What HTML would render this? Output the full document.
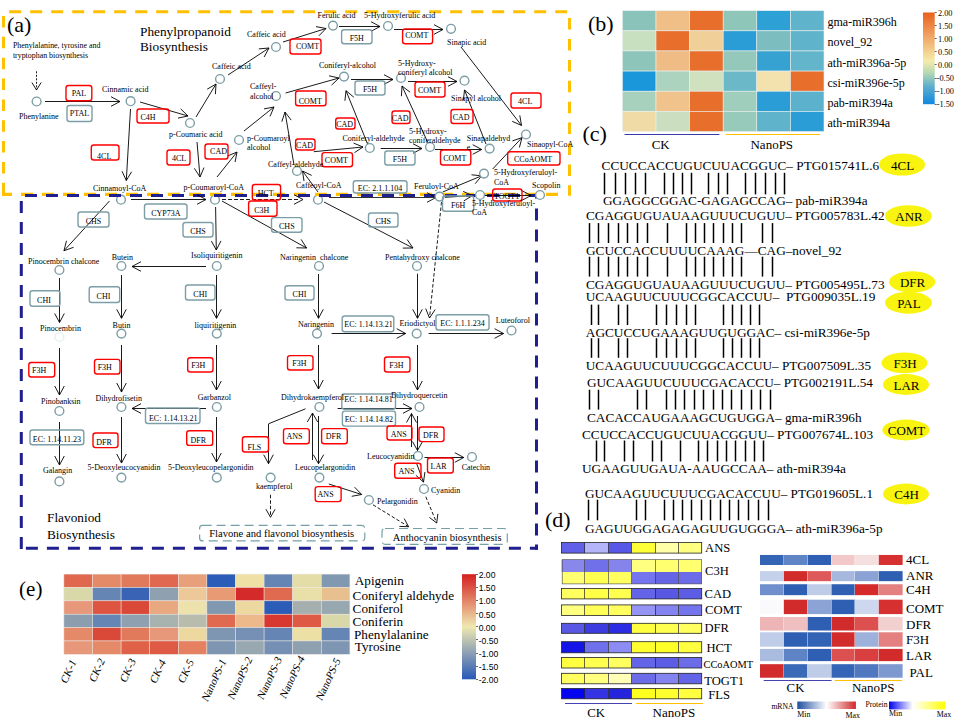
<!DOCTYPE html>
<html><head><meta charset="utf-8"><title>figure</title>
<style>
html,body{margin:0;padding:0;background:#fff;}
svg{display:block;font-family:"Liberation Serif",serif;}
</style></head><body>
<svg width="959" height="719" viewBox="0 0 959 719">
<rect width="959" height="719" fill="#fff"/>
<circle cx="121.0" cy="199.7" r="4.4" fill="#fff" stroke="#7d9ea6" stroke-width="1.4"/>
<circle cx="215.0" cy="199.7" r="4.4" fill="#fff" stroke="#7d9ea6" stroke-width="1.4"/>
<circle cx="318.0" cy="199.7" r="4.4" fill="#fff" stroke="#7d9ea6" stroke-width="1.4"/>
<line x1="9.2" y1="11.7" x2="571" y2="11.7" stroke="#ffc000" stroke-width="3" stroke-dasharray="12 9"/>
<line x1="569.5" y1="18.1" x2="569.5" y2="195.7" stroke="#ffc000" stroke-width="3" stroke-dasharray="11.5 9.4"/>
<line x1="558" y1="194.4" x2="2" y2="194.4" stroke="#ffc000" stroke-width="3.4" stroke-dasharray="12 9"/>
<line x1="3.5" y1="16" x2="3.5" y2="195.7" stroke="#ffc000" stroke-width="3" stroke-dasharray="11.5 9.35"/>
<line x1="25" y1="195.5" x2="538" y2="195.5" stroke="#1f1f8f" stroke-width="3" stroke-dasharray="12 9"/>
<line x1="21.3" y1="201.1" x2="21.3" y2="549.8" stroke="#1f1f8f" stroke-width="3" stroke-dasharray="12 9"/>
<line x1="536.5" y1="208.5" x2="536.5" y2="549.8" stroke="#1f1f8f" stroke-width="3" stroke-dasharray="12 9"/>
<line x1="536.5" y1="194" x2="536.5" y2="198.5" stroke="#1f1f8f" stroke-width="3" stroke-dasharray="12 9"/>
<line x1="25.9" y1="548.3" x2="538" y2="548.3" stroke="#1f1f8f" stroke-width="3" stroke-dasharray="12 9"/>
<text x="7.0" y="32.0" font-size="22">(a)</text>
<text x="140.0" y="36.0" font-size="13.3">Phenylpropanoid</text>
<text x="140.0" y="51.0" font-size="13.3">Biosynthesis</text>
<text x="12.9" y="47.6" font-size="7.9">Phenylalanine, tyrosine and</text>
<text x="12.9" y="57.7" font-size="7.9">tryptophan biosynthesis</text>
<text x="47.0" y="522.0" font-size="13.3">Flavoniod</text>
<text x="47.0" y="538.5" font-size="13.3">Biosynthesis</text>
<line x1="36.5" y1="71.3" x2="36.5" y2="90.0" stroke="#000" stroke-width="0.9" stroke-dasharray="2 1.5"/>
<polyline points="31.9,82.5 36.5,90.0 41.1,82.5" fill="none" stroke="#000" stroke-width="0.9"/>
<line x1="45.0" y1="101.5" x2="120.0" y2="101.5" stroke="#000" stroke-width="0.9"/>
<polyline points="111.0,106.3 120.0,101.5 111.0,96.7" fill="none" stroke="#000" stroke-width="0.9"/>
<line x1="140.0" y1="102.0" x2="188.0" y2="116.0" stroke="#000" stroke-width="0.9"/>
<polyline points="178.0,118.1 188.0,116.0 180.7,108.9" fill="none" stroke="#000" stroke-width="0.9"/>
<line x1="196.0" y1="117.0" x2="216.0" y2="84.0" stroke="#000" stroke-width="0.9"/>
<polyline points="215.4,94.2 216.0,84.0 207.2,89.2" fill="none" stroke="#000" stroke-width="0.9"/>
<line x1="228.0" y1="75.0" x2="269.0" y2="48.0" stroke="#000" stroke-width="0.9"/>
<polyline points="264.1,57.0 269.0,48.0 258.8,48.9" fill="none" stroke="#000" stroke-width="0.9"/>
<line x1="130.5" y1="109.0" x2="126.3" y2="180.5" stroke="#000" stroke-width="0.9"/>
<polyline points="122.0,171.2 126.3,180.5 131.6,171.8" fill="none" stroke="#000" stroke-width="0.9"/>
<line x1="197.0" y1="142.0" x2="200.0" y2="177.0" stroke="#000" stroke-width="0.9"/>
<polyline points="194.4,168.4 200.0,177.0 204.0,167.6" fill="none" stroke="#000" stroke-width="0.9"/>
<line x1="217.0" y1="177.0" x2="237.0" y2="152.0" stroke="#000" stroke-width="0.9"/>
<polyline points="235.1,162.0 237.0,152.0 227.6,156.0" fill="none" stroke="#000" stroke-width="0.9"/>
<line x1="244.0" y1="131.0" x2="274.0" y2="107.0" stroke="#000" stroke-width="0.9"/>
<polyline points="270.0,116.4 274.0,107.0 264.0,108.9" fill="none" stroke="#000" stroke-width="0.9"/>
<line x1="294.0" y1="165.0" x2="285.0" y2="112.0" stroke="#000" stroke-width="0.9"/>
<polyline points="291.2,120.1 285.0,112.0 281.8,121.7" fill="none" stroke="#000" stroke-width="0.9"/>
<line x1="283.0" y1="42.0" x2="326.0" y2="28.5" stroke="#000" stroke-width="0.9"/>
<polyline points="318.9,35.8 326.0,28.5 316.0,26.6" fill="none" stroke="#000" stroke-width="0.9"/>
<line x1="339.0" y1="26.5" x2="380.0" y2="26.5" stroke="#000" stroke-width="0.9"/>
<polyline points="371.0,31.3 380.0,26.5 371.0,21.7" fill="none" stroke="#000" stroke-width="0.9"/>
<line x1="394.0" y1="29.5" x2="443.0" y2="29.5" stroke="#000" stroke-width="0.9"/>
<polyline points="434.0,34.3 443.0,29.5 434.0,24.7" fill="none" stroke="#000" stroke-width="0.9"/>
<line x1="461.0" y1="47.0" x2="521.5" y2="125.5" stroke="#000" stroke-width="0.9"/>
<polyline points="512.2,121.3 521.5,125.5 519.8,115.4" fill="none" stroke="#000" stroke-width="0.9"/>
<line x1="285.6" y1="93.0" x2="339.0" y2="78.0" stroke="#000" stroke-width="0.9"/>
<polyline points="331.6,85.1 339.0,78.0 329.0,75.8" fill="none" stroke="#000" stroke-width="0.9"/>
<line x1="351.0" y1="79.5" x2="393.0" y2="79.5" stroke="#000" stroke-width="0.9"/>
<polyline points="384.0,84.3 393.0,79.5 384.0,74.7" fill="none" stroke="#000" stroke-width="0.9"/>
<line x1="408.0" y1="81.5" x2="457.0" y2="81.5" stroke="#000" stroke-width="0.9"/>
<polyline points="448.0,86.3 457.0,81.5 448.0,76.7" fill="none" stroke="#000" stroke-width="0.9"/>
<line x1="367.6" y1="144.0" x2="346.0" y2="90.7" stroke="#000" stroke-width="0.9"/>
<polyline points="353.8,97.2 346.0,90.7 344.9,100.8" fill="none" stroke="#000" stroke-width="0.9"/>
<line x1="427.6" y1="142.0" x2="402.0" y2="86.0" stroke="#000" stroke-width="0.9"/>
<polyline points="410.1,92.2 402.0,86.0 401.4,96.2" fill="none" stroke="#000" stroke-width="0.9"/>
<line x1="486.0" y1="144.0" x2="464.5" y2="90.0" stroke="#000" stroke-width="0.9"/>
<polyline points="472.3,96.6 464.5,90.0 463.4,100.1" fill="none" stroke="#000" stroke-width="0.9"/>
<line x1="313.8" y1="151.7" x2="363.0" y2="147.0" stroke="#000" stroke-width="0.9"/>
<polyline points="354.5,152.6 363.0,147.0 353.6,143.1" fill="none" stroke="#000" stroke-width="0.9"/>
<line x1="380.7" y1="148.5" x2="422.0" y2="148.5" stroke="#000" stroke-width="0.9"/>
<polyline points="413.0,153.3 422.0,148.5 413.0,143.7" fill="none" stroke="#000" stroke-width="0.9"/>
<line x1="435.0" y1="149.5" x2="481.7" y2="149.5" stroke="#000" stroke-width="0.9"/>
<polyline points="472.7,154.3 481.7,149.5 472.7,144.7" fill="none" stroke="#000" stroke-width="0.9"/>
<line x1="492.7" y1="169.0" x2="522.0" y2="137.6" stroke="#000" stroke-width="0.9"/>
<polyline points="519.4,147.5 522.0,137.6 512.4,140.9" fill="none" stroke="#000" stroke-width="0.9"/>
<line x1="442.7" y1="192.0" x2="481.7" y2="175.8" stroke="#000" stroke-width="0.9"/>
<polyline points="475.2,183.7 481.7,175.8 471.5,174.8" fill="none" stroke="#000" stroke-width="0.9"/>
<line x1="318.0" y1="192.0" x2="302.5" y2="171.0" stroke="#000" stroke-width="0.9"/>
<polyline points="311.7,175.4 302.5,171.0 304.0,181.1" fill="none" stroke="#000" stroke-width="0.9"/>
<line x1="131.0" y1="199.5" x2="206.0" y2="199.5" stroke="#000" stroke-width="0.9"/>
<polyline points="197.0,204.3 206.0,199.5 197.0,194.7" fill="none" stroke="#000" stroke-width="0.9"/>
<line x1="222.0" y1="199.5" x2="300.0" y2="199.5" stroke="#000" stroke-width="0.9" stroke-dasharray="4 2"/>
<polyline points="294.0,204.3 303.0,199.5 294.0,194.7" fill="none" stroke="#000" stroke-width="0.9"/>
<line x1="329.0" y1="197.5" x2="435.0" y2="197.5" stroke="#000" stroke-width="0.8"/>
<polyline points="427.0,202.3 436.0,197.5 427.0,192.7" fill="none" stroke="#000" stroke-width="0.9"/>
<line x1="445.0" y1="197.3" x2="472.5" y2="195.6" stroke="#000" stroke-width="0.9"/>
<polyline points="463.8,200.9 472.5,195.6 463.2,191.4" fill="none" stroke="#000" stroke-width="0.9"/>
<line x1="485.0" y1="195.5" x2="531.0" y2="195.5" stroke="#000" stroke-width="0.9"/>
<polyline points="522.0,200.3 531.0,195.5 522.0,190.7" fill="none" stroke="#000" stroke-width="0.9"/>
<line x1="109.5" y1="201.0" x2="64.0" y2="250.7" stroke="#000" stroke-width="0.9"/>
<polyline points="66.5,240.8 64.0,250.7 73.6,247.3" fill="none" stroke="#000" stroke-width="0.9"/>
<line x1="215.6" y1="207.0" x2="216.3" y2="250.0" stroke="#000" stroke-width="0.9"/>
<polyline points="211.4,241.1 216.3,250.0 221.0,240.9" fill="none" stroke="#000" stroke-width="0.9"/>
<line x1="222.0" y1="201.0" x2="306.6" y2="248.0" stroke="#000" stroke-width="0.9"/>
<polyline points="296.4,247.8 306.6,248.0 301.1,239.4" fill="none" stroke="#000" stroke-width="0.9"/>
<line x1="324.0" y1="202.0" x2="413.0" y2="248.0" stroke="#000" stroke-width="0.9"/>
<polyline points="402.8,248.1 413.0,248.0 407.2,239.6" fill="none" stroke="#000" stroke-width="0.9"/>
<line x1="441.5" y1="202.0" x2="429.5" y2="318.0" stroke="#000" stroke-width="0.9" stroke-dasharray="3.5 2"/>
<polyline points="425.7,308.6 429.5,318.0 435.2,309.5" fill="none" stroke="#000" stroke-width="0.9"/>
<line x1="206.0" y1="266.5" x2="132.0" y2="266.5" stroke="#000" stroke-width="0.9"/>
<polyline points="141.0,261.7 132.0,266.5 141.0,271.3" fill="none" stroke="#000" stroke-width="0.9"/>
<line x1="59.5" y1="278.0" x2="59.5" y2="322.5" stroke="#000" stroke-width="0.9"/>
<polyline points="54.7,313.5 59.5,322.5 64.3,313.5" fill="none" stroke="#000" stroke-width="0.9"/>
<line x1="121.5" y1="275.0" x2="121.5" y2="318.3" stroke="#000" stroke-width="0.9"/>
<polyline points="116.7,309.3 121.5,318.3 126.3,309.3" fill="none" stroke="#000" stroke-width="0.9"/>
<line x1="216.5" y1="275.0" x2="216.5" y2="318.3" stroke="#000" stroke-width="0.9"/>
<polyline points="211.7,309.3 216.5,318.3 221.3,309.3" fill="none" stroke="#000" stroke-width="0.9"/>
<line x1="318.5" y1="274.0" x2="318.5" y2="318.3" stroke="#000" stroke-width="0.9"/>
<polyline points="313.7,309.3 318.5,318.3 323.3,309.3" fill="none" stroke="#000" stroke-width="0.9"/>
<line x1="417.5" y1="273.7" x2="417.5" y2="318.3" stroke="#000" stroke-width="0.9"/>
<polyline points="412.7,309.3 417.5,318.3 422.3,309.3" fill="none" stroke="#000" stroke-width="0.9"/>
<line x1="331.6" y1="333.5" x2="405.7" y2="333.5" stroke="#000" stroke-width="0.9"/>
<polyline points="396.7,338.3 405.7,333.5 396.7,328.7" fill="none" stroke="#000" stroke-width="0.9"/>
<line x1="428.6" y1="333.5" x2="503.6" y2="333.5" stroke="#000" stroke-width="0.9"/>
<polyline points="494.6,338.3 503.6,333.5 494.6,328.7" fill="none" stroke="#000" stroke-width="0.9"/>
<line x1="59.5" y1="348.0" x2="59.5" y2="395.0" stroke="#000" stroke-width="0.9"/>
<polyline points="54.7,386.0 59.5,395.0 64.3,386.0" fill="none" stroke="#000" stroke-width="0.9"/>
<line x1="121.5" y1="345.0" x2="121.5" y2="392.0" stroke="#000" stroke-width="0.9"/>
<polyline points="116.7,383.0 121.5,392.0 126.3,383.0" fill="none" stroke="#000" stroke-width="0.9"/>
<line x1="216.5" y1="345.0" x2="216.5" y2="390.0" stroke="#000" stroke-width="0.9"/>
<polyline points="211.7,381.0 216.5,390.0 221.3,381.0" fill="none" stroke="#000" stroke-width="0.9"/>
<line x1="318.5" y1="345.0" x2="318.5" y2="389.0" stroke="#000" stroke-width="0.9"/>
<polyline points="313.7,380.0 318.5,389.0 323.3,380.0" fill="none" stroke="#000" stroke-width="0.9"/>
<line x1="417.5" y1="345.0" x2="417.5" y2="390.0" stroke="#000" stroke-width="0.9"/>
<polyline points="412.7,381.0 417.5,390.0 422.3,381.0" fill="none" stroke="#000" stroke-width="0.9"/>
<line x1="206.0" y1="408.5" x2="132.0" y2="408.5" stroke="#000" stroke-width="0.9"/>
<polyline points="141.0,403.7 132.0,408.5 141.0,413.3" fill="none" stroke="#000" stroke-width="0.9"/>
<line x1="59.5" y1="422.0" x2="59.5" y2="465.0" stroke="#000" stroke-width="0.9"/>
<polyline points="54.7,456.0 59.5,465.0 64.3,456.0" fill="none" stroke="#000" stroke-width="0.9"/>
<line x1="121.5" y1="417.0" x2="121.5" y2="463.0" stroke="#000" stroke-width="0.9"/>
<polyline points="116.7,454.0 121.5,463.0 126.3,454.0" fill="none" stroke="#000" stroke-width="0.9"/>
<line x1="216.5" y1="417.0" x2="216.5" y2="462.0" stroke="#000" stroke-width="0.9"/>
<polyline points="211.7,453.0 216.5,462.0 221.3,453.0" fill="none" stroke="#000" stroke-width="0.9"/>
<line x1="337.6" y1="408.5" x2="412.0" y2="408.5" stroke="#000" stroke-width="0.9"/>
<polyline points="403.0,413.3 412.0,408.5 403.0,403.7" fill="none" stroke="#000" stroke-width="0.9"/>
<line x1="305.5" y1="408.8" x2="268.5" y2="423.8" stroke="#000" stroke-width="0.9"/>
<line x1="268.5" y1="424.0" x2="268.5" y2="463.7" stroke="#000" stroke-width="0.9"/>
<polyline points="263.7,454.7 268.5,463.7 273.3,454.7" fill="none" stroke="#000" stroke-width="0.9"/>
<line x1="270.5" y1="494.8" x2="270.5" y2="517.2" stroke="#000" stroke-width="0.9" stroke-dasharray="3.5 2"/>
<polyline points="265.9,509.2 270.5,517.2 275.1,509.2" fill="none" stroke="#000" stroke-width="0.9"/>
<line x1="312.5" y1="413.0" x2="312.5" y2="460.0" stroke="#000" stroke-width="0.9"/>
<polyline points="317.7,422.0 312.5,413.0 307.3,422.0" fill="none" stroke="#000" stroke-width="0.9"/>
<line x1="318.5" y1="416.0" x2="318.5" y2="463.7" stroke="#000" stroke-width="0.9"/>
<polyline points="313.3,454.7 318.5,463.7 323.7,454.7" fill="none" stroke="#000" stroke-width="0.9"/>
<line x1="411.5" y1="413.5" x2="411.5" y2="447.0" stroke="#000" stroke-width="0.9"/>
<polyline points="416.5,422.5 411.5,413.5 406.5,422.5" fill="none" stroke="#000" stroke-width="0.9"/>
<line x1="417.5" y1="416.0" x2="417.5" y2="450.5" stroke="#000" stroke-width="0.9"/>
<polyline points="412.5,441.5 417.5,450.5 422.5,441.5" fill="none" stroke="#000" stroke-width="0.9"/>
<line x1="424.5" y1="457.5" x2="463.8" y2="457.5" stroke="#000" stroke-width="0.9"/>
<polyline points="454.8,462.3 463.8,457.5 454.8,452.7" fill="none" stroke="#000" stroke-width="0.9"/>
<line x1="416.7" y1="463.7" x2="423.5" y2="482.1" stroke="#000" stroke-width="0.9"/>
<polyline points="415.9,475.3 423.5,482.1 424.9,472.0" fill="none" stroke="#000" stroke-width="0.9"/>
<line x1="328.8" y1="484.0" x2="361.7" y2="494.5" stroke="#000" stroke-width="0.9"/>
<polyline points="351.7,496.3 361.7,494.5 354.6,487.2" fill="none" stroke="#000" stroke-width="0.9"/>
<line x1="373.0" y1="504.8" x2="408.6" y2="526.7" stroke="#000" stroke-width="0.9" stroke-dasharray="3.5 2"/>
<polyline points="399.4,526.4 408.6,526.7 404.2,518.6" fill="none" stroke="#000" stroke-width="0.9"/>
<line x1="425.8" y1="496.7" x2="436.7" y2="523.0" stroke="#000" stroke-width="0.9" stroke-dasharray="3.5 2"/>
<polyline points="429.4,517.4 436.7,523.0 437.9,513.8" fill="none" stroke="#000" stroke-width="0.9"/>
<circle cx="36.6" cy="101.5" r="4.4" fill="#fff" stroke="#7d9ea6" stroke-width="1.4"/>
<circle cx="130.6" cy="101.2" r="4.4" fill="#fff" stroke="#7d9ea6" stroke-width="1.4"/>
<circle cx="190.0" cy="123.0" r="4.4" fill="#fff" stroke="#7d9ea6" stroke-width="1.4"/>
<circle cx="220.0" cy="79.0" r="4.4" fill="#fff" stroke="#7d9ea6" stroke-width="1.4"/>
<circle cx="276.0" cy="47.0" r="4.4" fill="#fff" stroke="#7d9ea6" stroke-width="1.4"/>
<circle cx="239.0" cy="140.0" r="4.4" fill="#fff" stroke="#7d9ea6" stroke-width="1.4"/>
<circle cx="276.0" cy="96.0" r="4.4" fill="#fff" stroke="#7d9ea6" stroke-width="1.4"/>
<circle cx="297.0" cy="171.0" r="4.4" fill="#fff" stroke="#7d9ea6" stroke-width="1.4"/>
<circle cx="333.0" cy="25.6" r="4.4" fill="#fff" stroke="#7d9ea6" stroke-width="1.4"/>
<circle cx="388.0" cy="26.0" r="4.4" fill="#fff" stroke="#7d9ea6" stroke-width="1.4"/>
<circle cx="451.0" cy="28.8" r="4.4" fill="#fff" stroke="#7d9ea6" stroke-width="1.4"/>
<circle cx="344.0" cy="76.6" r="4.4" fill="#fff" stroke="#7d9ea6" stroke-width="1.4"/>
<circle cx="401.0" cy="78.0" r="4.4" fill="#fff" stroke="#7d9ea6" stroke-width="1.4"/>
<circle cx="464.5" cy="80.7" r="4.4" fill="#fff" stroke="#7d9ea6" stroke-width="1.4"/>
<circle cx="526.0" cy="134.5" r="4.4" fill="#fff" stroke="#7d9ea6" stroke-width="1.4"/>
<circle cx="369.8" cy="148.0" r="4.4" fill="#fff" stroke="#7d9ea6" stroke-width="1.4"/>
<circle cx="430.0" cy="147.0" r="4.4" fill="#fff" stroke="#7d9ea6" stroke-width="1.4"/>
<circle cx="489.6" cy="148.6" r="4.4" fill="#fff" stroke="#7d9ea6" stroke-width="1.4"/>
<circle cx="484.0" cy="173.6" r="4.4" fill="#fff" stroke="#7d9ea6" stroke-width="1.4"/>
<circle cx="439.5" cy="196.6" r="4.4" fill="#fff" stroke="#7d9ea6" stroke-width="1.4"/>
<circle cx="480.0" cy="195.0" r="4.4" fill="#fff" stroke="#7d9ea6" stroke-width="1.4"/>
<circle cx="540.0" cy="195.0" r="4.4" fill="#fff" stroke="#7d9ea6" stroke-width="1.4"/>
<circle cx="59.4" cy="270.0" r="4.4" fill="#fff" stroke="#7d9ea6" stroke-width="1.4"/>
<circle cx="121.4" cy="266.0" r="4.4" fill="#fff" stroke="#7d9ea6" stroke-width="1.4"/>
<circle cx="216.8" cy="266.0" r="4.4" fill="#fff" stroke="#7d9ea6" stroke-width="1.4"/>
<circle cx="319.0" cy="266.0" r="4.4" fill="#fff" stroke="#7d9ea6" stroke-width="1.4"/>
<circle cx="417.0" cy="266.0" r="4.4" fill="#fff" stroke="#7d9ea6" stroke-width="1.4"/>
<circle cx="121.4" cy="333.6" r="4.4" fill="#fff" stroke="#7d9ea6" stroke-width="1.4"/>
<circle cx="216.8" cy="333.6" r="4.4" fill="#fff" stroke="#7d9ea6" stroke-width="1.4"/>
<circle cx="317.0" cy="333.6" r="4.4" fill="#fff" stroke="#7d9ea6" stroke-width="1.4"/>
<circle cx="416.7" cy="333.6" r="4.4" fill="#fff" stroke="#7d9ea6" stroke-width="1.4"/>
<circle cx="511.5" cy="330.5" r="4.4" fill="#fff" stroke="#7d9ea6" stroke-width="1.4"/>
<circle cx="59.4" cy="411.0" r="4.4" fill="#fff" stroke="#7d9ea6" stroke-width="1.4"/>
<circle cx="121.4" cy="407.0" r="4.4" fill="#fff" stroke="#7d9ea6" stroke-width="1.4"/>
<circle cx="216.8" cy="407.0" r="4.4" fill="#fff" stroke="#7d9ea6" stroke-width="1.4"/>
<circle cx="319.4" cy="407.0" r="4.4" fill="#fff" stroke="#7d9ea6" stroke-width="1.4"/>
<circle cx="419.5" cy="407.0" r="4.4" fill="#fff" stroke="#7d9ea6" stroke-width="1.4"/>
<circle cx="59.4" cy="481.4" r="4.4" fill="#fff" stroke="#7d9ea6" stroke-width="1.4"/>
<circle cx="121.4" cy="477.6" r="4.4" fill="#fff" stroke="#7d9ea6" stroke-width="1.4"/>
<circle cx="216.8" cy="477.6" r="4.4" fill="#fff" stroke="#7d9ea6" stroke-width="1.4"/>
<circle cx="270.6" cy="477.6" r="4.4" fill="#fff" stroke="#7d9ea6" stroke-width="1.4"/>
<circle cx="319.4" cy="477.6" r="4.4" fill="#fff" stroke="#7d9ea6" stroke-width="1.4"/>
<circle cx="368.9" cy="500.0" r="4.4" fill="#fff" stroke="#7d9ea6" stroke-width="1.4"/>
<circle cx="418.0" cy="456.0" r="4.4" fill="#fff" stroke="#7d9ea6" stroke-width="1.4"/>
<circle cx="472.0" cy="457.0" r="4.4" fill="#fff" stroke="#7d9ea6" stroke-width="1.4"/>
<circle cx="424.0" cy="489.0" r="4.4" fill="#fff" stroke="#7d9ea6" stroke-width="1.4"/>
<circle cx="59.4" cy="337.0" r="4.4" fill="#fff" stroke="#e4f0f2" stroke-width="1.4"/>
<rect x="66.0" y="85.5" width="25.8" height="15.2" rx="2.5" fill="none" stroke="#ff0000" stroke-width="1.4"/>
<text x="78.9" y="96.3" font-size="8" text-anchor="middle">PAL</text>
<rect x="67.0" y="105.5" width="25.0" height="16.0" rx="2.5" fill="none" stroke="#7d9ea6" stroke-width="1.4"/>
<text x="79.5" y="116.2" font-size="8" text-anchor="middle">PTAL</text>
<rect x="137.0" y="109.0" width="32.0" height="14.0" rx="2.5" fill="none" stroke="#ff0000" stroke-width="1.4"/>
<text x="148.0" y="120.2" font-size="8" text-anchor="middle">C4H</text>
<rect x="91.3" y="145.0" width="27.7" height="15.0" rx="2.5" fill="none" stroke="#ff0000" stroke-width="1.4"/>
<text x="104.2" y="158.5" font-size="8" text-anchor="middle">4CL</text>
<rect x="167.0" y="150.0" width="23.0" height="15.0" rx="2.5" fill="none" stroke="#ff0000" stroke-width="1.4"/>
<text x="179.0" y="160.7" font-size="8" text-anchor="middle">4CL</text>
<rect x="205.0" y="144.0" width="23.0" height="15.0" rx="2.5" fill="none" stroke="#ff0000" stroke-width="1.4"/>
<text x="218.5" y="153.7" font-size="8" text-anchor="middle">CAD</text>
<rect x="290.0" y="39.0" width="31.0" height="15.0" rx="2.5" fill="none" stroke="#ff0000" stroke-width="1.4"/>
<text x="307.5" y="48.7" font-size="8" text-anchor="middle">COMT</text>
<rect x="341.6" y="29.7" width="30.4" height="14.1" rx="2.5" fill="none" stroke="#7d9ea6" stroke-width="1.4"/>
<text x="356.8" y="40.9" font-size="8" text-anchor="middle">F5H</text>
<rect x="402.6" y="29.0" width="30.0" height="14.8" rx="2.5" fill="none" stroke="#ff0000" stroke-width="1.4"/>
<text x="416.8" y="37.6" font-size="8" text-anchor="middle">COMT</text>
<rect x="295.6" y="91.0" width="30.4" height="14.7" rx="2.5" fill="none" stroke="#ff0000" stroke-width="1.4"/>
<text x="310.3" y="103.6" font-size="8" text-anchor="middle">COMT</text>
<rect x="355.0" y="81.0" width="30.0" height="14.0" rx="2.5" fill="none" stroke="#7d9ea6" stroke-width="1.4"/>
<text x="370.0" y="92.1" font-size="8" text-anchor="middle">F5H</text>
<rect x="415.0" y="82.0" width="30.0" height="15.0" rx="2.5" fill="none" stroke="#ff0000" stroke-width="1.4"/>
<text x="429.5" y="93.2" font-size="8" text-anchor="middle">COMT</text>
<rect x="511.0" y="93.0" width="30.0" height="15.0" rx="2.5" fill="none" stroke="#ff0000" stroke-width="1.4"/>
<text x="525.2" y="104.0" font-size="8" text-anchor="middle">4CL</text>
<rect x="335.7" y="118.0" width="19.3" height="11.0" rx="2.5" fill="none" stroke="#ff0000" stroke-width="1.4"/>
<text x="344.6" y="127.0" font-size="8" text-anchor="middle">CAD</text>
<rect x="392.0" y="111.0" width="18.0" height="12.5" rx="2.5" fill="none" stroke="#ff0000" stroke-width="1.4"/>
<text x="400.2" y="120.8" font-size="8" text-anchor="middle">CAD</text>
<rect x="451.0" y="109.5" width="22.0" height="14.0" rx="2.5" fill="none" stroke="#ff0000" stroke-width="1.4"/>
<text x="461.2" y="120.0" font-size="8" text-anchor="middle">CAD</text>
<rect x="295.6" y="139.0" width="19.4" height="11.0" rx="2.5" fill="none" stroke="#ff0000" stroke-width="1.4"/>
<text x="304.5" y="148.0" font-size="8" text-anchor="middle">CAD</text>
<rect x="322.0" y="152.6" width="30.5" height="14.1" rx="2.5" fill="none" stroke="#ff0000" stroke-width="1.4"/>
<text x="336.4" y="163.2" font-size="8" text-anchor="middle">COMT</text>
<rect x="384.8" y="151.0" width="30.2" height="14.0" rx="2.5" fill="none" stroke="#7d9ea6" stroke-width="1.4"/>
<text x="399.9" y="162.1" font-size="8" text-anchor="middle">F5H</text>
<rect x="440.5" y="150.0" width="30.3" height="15.0" rx="2.5" fill="none" stroke="#ff0000" stroke-width="1.4"/>
<text x="454.8" y="161.0" font-size="8" text-anchor="middle">COMT</text>
<rect x="507.7" y="151.7" width="52.3" height="13.3" rx="2.5" fill="none" stroke="#ff0000" stroke-width="1.4"/>
<text x="533.1" y="161.9" font-size="8" text-anchor="middle">CCoAOMT</text>
<rect x="252.3" y="184.5" width="28.3" height="15.6" rx="2.5" fill="none" stroke="#ff0000" stroke-width="1.4"/>
<text x="265.7" y="195.8" font-size="8" text-anchor="middle">HCT</text>
<rect x="248.6" y="201.0" width="28.4" height="15.3" rx="2.5" fill="none" stroke="#ff0000" stroke-width="1.4"/>
<text x="261.8" y="213.3" font-size="8" text-anchor="middle">C3H</text>
<rect x="353.3" y="180.8" width="53.7" height="12.2" rx="2.5" fill="none" stroke="#7d9ea6" stroke-width="1.4"/>
<text x="380.1" y="191.0" font-size="8" text-anchor="middle">EC: 2.1.1.104</text>
<rect x="442.5" y="196.0" width="31.2" height="15.3" rx="2.5" fill="none" stroke="#7d9ea6" stroke-width="1.4"/>
<text x="458.1" y="207.8" font-size="8" text-anchor="middle">F6H</text>
<rect x="492.7" y="189.0" width="29.3" height="12.0" rx="2.5" fill="none" stroke="#ff0000" stroke-width="1.4"/>
<text x="506.6" y="198.5" font-size="8" text-anchor="middle">TOGT1</text>
<rect x="144.5" y="204.0" width="42.5" height="15.0" rx="2.5" fill="none" stroke="#7d9ea6" stroke-width="1.4"/>
<text x="165.8" y="215.6" font-size="8" text-anchor="middle">CYP73A</text>
<rect x="78.0" y="212.0" width="31.0" height="15.0" rx="2.5" fill="none" stroke="#7d9ea6" stroke-width="1.4"/>
<text x="93.5" y="223.6" font-size="8" text-anchor="middle">CHS</text>
<rect x="183.0" y="222.5" width="30.0" height="14.5" rx="2.5" fill="none" stroke="#7d9ea6" stroke-width="1.4"/>
<text x="198.0" y="233.9" font-size="8" text-anchor="middle">CHS</text>
<rect x="271.5" y="217.6" width="30.5" height="14.6" rx="2.5" fill="none" stroke="#7d9ea6" stroke-width="1.4"/>
<text x="286.8" y="229.0" font-size="8" text-anchor="middle">CHS</text>
<rect x="368.5" y="213.0" width="29.5" height="14.0" rx="2.5" fill="none" stroke="#7d9ea6" stroke-width="1.4"/>
<text x="383.2" y="224.1" font-size="8" text-anchor="middle">CHS</text>
<rect x="30.0" y="290.8" width="30.0" height="15.5" rx="2.5" fill="none" stroke="#7d9ea6" stroke-width="1.4"/>
<text x="44.0" y="303.3" font-size="8" text-anchor="middle">CHI</text>
<rect x="89.2" y="286.7" width="30.5" height="15.8" rx="2.5" fill="none" stroke="#7d9ea6" stroke-width="1.4"/>
<text x="103.5" y="299.3" font-size="8" text-anchor="middle">CHI</text>
<rect x="185.5" y="285.0" width="29.5" height="15.0" rx="2.5" fill="none" stroke="#7d9ea6" stroke-width="1.4"/>
<text x="200.2" y="296.6" font-size="8" text-anchor="middle">CHI</text>
<rect x="285.0" y="285.7" width="29.0" height="14.3" rx="2.5" fill="none" stroke="#7d9ea6" stroke-width="1.4"/>
<text x="299.5" y="297.0" font-size="8" text-anchor="middle">CHI</text>
<rect x="342.2" y="316.0" width="51.6" height="15.7" rx="2.5" fill="none" stroke="#7d9ea6" stroke-width="1.4"/>
<text x="368.5" y="326.6" font-size="8" text-anchor="middle">EC: 1.14.13.21</text>
<rect x="436.0" y="314.8" width="53.0" height="15.2" rx="2.5" fill="none" stroke="#7d9ea6" stroke-width="1.4"/>
<text x="462.5" y="325.6" font-size="8" text-anchor="middle">EC: 1.1.1.234</text>
<rect x="28.8" y="362.5" width="25.9" height="14.5" rx="2.5" fill="none" stroke="#ff0000" stroke-width="1.4"/>
<text x="39.1" y="373.0" font-size="8" text-anchor="middle">F3H</text>
<rect x="94.5" y="359.4" width="25.5" height="14.6" rx="2.5" fill="none" stroke="#ff0000" stroke-width="1.4"/>
<text x="104.8" y="369.9" font-size="8" text-anchor="middle">F3H</text>
<rect x="187.7" y="357.8" width="25.3" height="14.2" rx="2.5" fill="none" stroke="#ff0000" stroke-width="1.4"/>
<text x="198.3" y="368.1" font-size="8" text-anchor="middle">F3H</text>
<rect x="287.5" y="355.6" width="25.5" height="14.4" rx="2.5" fill="none" stroke="#ff0000" stroke-width="1.4"/>
<text x="299.4" y="366.3" font-size="8" text-anchor="middle">F3H</text>
<rect x="384.5" y="357.0" width="25.5" height="15.0" rx="2.5" fill="none" stroke="#ff0000" stroke-width="1.4"/>
<text x="396.4" y="368.0" font-size="8" text-anchor="middle">F3H</text>
<rect x="145.5" y="408.0" width="54.5" height="15.5" rx="2.5" fill="none" stroke="#7d9ea6" stroke-width="1.4"/>
<text x="173.2" y="421.0" font-size="8" text-anchor="middle">EC: 1.14.13.21</text>
<rect x="30.0" y="430.0" width="53.8" height="14.8" rx="2.5" fill="none" stroke="#7d9ea6" stroke-width="1.4"/>
<text x="56.9" y="441.5" font-size="8" text-anchor="middle">EC: 1.14.11.23</text>
<rect x="93.0" y="433.0" width="25.0" height="14.6" rx="2.5" fill="none" stroke="#ff0000" stroke-width="1.4"/>
<text x="104.0" y="444.5" font-size="8" text-anchor="middle">DFR</text>
<rect x="186.7" y="430.7" width="26.0" height="14.7" rx="2.5" fill="none" stroke="#ff0000" stroke-width="1.4"/>
<text x="198.2" y="442.8" font-size="8" text-anchor="middle">DFR</text>
<rect x="242.4" y="436.8" width="26.1" height="15.2" rx="2.5" fill="none" stroke="#ff0000" stroke-width="1.4"/>
<text x="254.4" y="450.1" font-size="8" text-anchor="middle">FLS</text>
<rect x="341.8" y="394.0" width="53.7" height="15.2" rx="2.5" fill="none" stroke="#7d9ea6" stroke-width="1.4"/>
<text x="368.6" y="401.8" font-size="8" text-anchor="middle">EC: 1.14.14.81</text>
<rect x="342.4" y="411.1" width="53.1" height="15.0" rx="2.5" fill="none" stroke="#7d9ea6" stroke-width="1.4"/>
<text x="368.9" y="421.8" font-size="8" text-anchor="middle">EC: 1.14.14.82</text>
<rect x="283.5" y="428.6" width="25.8" height="15.2" rx="2.5" fill="none" stroke="#ff0000" stroke-width="1.4"/>
<text x="294.4" y="439.4" font-size="8" text-anchor="middle">ANS</text>
<rect x="321.6" y="428.6" width="25.7" height="15.2" rx="2.5" fill="none" stroke="#ff0000" stroke-width="1.4"/>
<text x="333.5" y="439.4" font-size="8" text-anchor="middle">DFR</text>
<rect x="387.0" y="426.0" width="25.0" height="14.0" rx="2.5" fill="none" stroke="#ff0000" stroke-width="1.4"/>
<text x="398.7" y="436.5" font-size="8" text-anchor="middle">ANS</text>
<rect x="419.0" y="427.0" width="25.0" height="14.6" rx="2.5" fill="none" stroke="#ff0000" stroke-width="1.4"/>
<text x="430.7" y="437.8" font-size="8" text-anchor="middle">DFR</text>
<rect x="427.5" y="458.0" width="25.8" height="15.0" rx="2.5" fill="none" stroke="#ff0000" stroke-width="1.4"/>
<text x="438.5" y="468.7" font-size="8" text-anchor="middle">LAR</text>
<rect x="394.7" y="463.3" width="26.3" height="15.0" rx="2.5" fill="none" stroke="#ff0000" stroke-width="1.4"/>
<text x="406.4" y="474.0" font-size="8" text-anchor="middle">ANS</text>
<rect x="315.2" y="486.6" width="25.9" height="15.0" rx="2.5" fill="none" stroke="#ff0000" stroke-width="1.4"/>
<text x="325.6" y="497.3" font-size="8" text-anchor="middle">ANS</text>
<text x="19.0" y="118.6" font-size="8">Phenylanine</text>
<text x="102.0" y="91.8" font-size="8">Cinnamic acid</text>
<text x="169.0" y="136.6" font-size="8">p-Coumaric acid</text>
<text x="212.0" y="68.6" font-size="8">Caffeic acid</text>
<text x="247.0" y="36.6" font-size="8">Caffeic acid</text>
<text x="247.0" y="140.6" font-size="8">p-Coumaroyl</text>
<text x="247.0" y="150.1" font-size="8">alcohol</text>
<text x="250.0" y="88.6" font-size="8">Caffeyl-</text>
<text x="250.0" y="98.6" font-size="8">alcohol</text>
<text x="93.0" y="190.6" font-size="8">Cinnamoyl-CoA</text>
<text x="183.5" y="189.6" font-size="8">p-Coumaroyl-CoA</text>
<text x="268.0" y="166.6" font-size="8">Caffeyl-aldehyde</text>
<text x="296.0" y="187.6" font-size="8">Caffeoyl-CoA</text>
<text x="317.5" y="17.6" font-size="8">Ferulic acid</text>
<text x="364.0" y="17.6" font-size="8">5-Hydroxyferulic acid</text>
<text x="447.0" y="44.6" font-size="8">Sinapic acid</text>
<text x="319.0" y="67.6" font-size="8">Coniferyl-alcohol</text>
<text x="398.0" y="65.6" font-size="8">5-Hydroxy-</text>
<text x="398.0" y="75.1" font-size="8">coniferyl alcohol</text>
<text x="451.0" y="101.3" font-size="8">Sinapyl alcohol</text>
<text x="527.0" y="146.6" font-size="8">Sinaopyl-CoA</text>
<text x="342.5" y="141.3" font-size="8">Coniferyl-aldehyde</text>
<text x="409.0" y="133.6" font-size="8">5-Hydroxy-</text>
<text x="409.0" y="143.1" font-size="8">coniferaldehyde</text>
<text x="466.7" y="140.6" font-size="8">Sinapaldehyd</text>
<text x="466.7" y="149.6" font-size="8">e</text>
<text x="494.0" y="175.1" font-size="8">5-Hydroxyferuloyl-</text>
<text x="494.0" y="184.6" font-size="8">CoA</text>
<text x="532.0" y="188.3" font-size="8">Scopolin</text>
<text x="414.0" y="189.2" font-size="8">Feruloyl-CoA</text>
<text x="472.0" y="205.6" font-size="8">5-Hydroxyferuloyl-</text>
<text x="472.0" y="215.3" font-size="8">CoA</text>
<text x="28.0" y="264.4" font-size="8">Pinocembrin chalcone</text>
<text x="111.7" y="259.6" font-size="8">Butein</text>
<text x="191.0" y="258.2" font-size="8">Isoliquiritigenin</text>
<text x="280.0" y="259.6" font-size="8" xml:space="preserve">Naringenin  chalcone</text>
<text x="385.0" y="259.6" font-size="8">Pentahydroxy chalcone</text>
<text x="40.0" y="330.6" font-size="8">Pinocembrin</text>
<text x="112.6" y="327.6" font-size="8">Butin</text>
<text x="194.6" y="327.6" font-size="8">liquiritigenin</text>
<text x="298.0" y="326.6" font-size="8">Naringenin</text>
<text x="399.5" y="326.4" font-size="8">Eriodictyol</text>
<text x="495.8" y="323.2" font-size="8">Luteoforol</text>
<text x="41.0" y="403.6" font-size="8">Pinobanksin</text>
<text x="95.4" y="400.6" font-size="8">Dihydrofisetin</text>
<text x="197.7" y="399.6" font-size="8">Garbanzol</text>
<text x="281.0" y="399.6" font-size="8">Dihydrokaempferol</text>
<text x="391.0" y="398.1" font-size="8">Dihydroquercetin</text>
<text x="43.0" y="472.6" font-size="8">Galangin</text>
<text x="87.6" y="470.4" font-size="8">5-Deoxyleucocyanidin</text>
<text x="168.0" y="470.4" font-size="8">5-Deoxyleucopelargonidin</text>
<text x="256.0" y="489.2" font-size="8">kaempferol</text>
<text x="295.0" y="470.1" font-size="8">Leucopelargonidin</text>
<text x="377.0" y="503.6" font-size="8">Pelargonidin</text>
<text x="367.0" y="459.1" font-size="8">Leucocyanidin</text>
<text x="461.7" y="470.1" font-size="8">Catechin</text>
<text x="431.0" y="492.6" font-size="8">Cyanidin</text>
<rect x="199.6" y="525.4" width="165.2" height="15.5" rx="3" fill="none" stroke="#74a0a6" stroke-width="1.2" stroke-dasharray="9 5"/>
<text x="281.7" y="536.5" font-size="10.6" text-anchor="middle">Flavone and flavonol biosynthesis</text>
<rect x="382" y="528.5" width="125.3" height="15.9" rx="3" fill="none" stroke="#74a0a6" stroke-width="1.2" stroke-dasharray="9 5"/>
<text x="447.2" y="541.0" font-size="10.5" text-anchor="middle">Anthocyanin biosynthesis</text>
<text x="588.0" y="31.0" font-size="22">(b)</text>
<rect x="622.40" y="10.70" width="33.60" height="20.13" fill="#8ac3ba" stroke="#e9f0ee" stroke-width="0.6"/>
<rect x="656.00" y="10.70" width="33.60" height="20.13" fill="#f0bf88" stroke="#e9f0ee" stroke-width="0.6"/>
<rect x="689.60" y="10.70" width="33.60" height="20.13" fill="#e86e2c" stroke="#e9f0ee" stroke-width="0.6"/>
<rect x="723.20" y="10.70" width="33.60" height="20.13" fill="#8fc6ba" stroke="#e9f0ee" stroke-width="0.6"/>
<rect x="756.80" y="10.70" width="33.60" height="20.13" fill="#2da0d6" stroke="#e9f0ee" stroke-width="0.6"/>
<rect x="790.40" y="10.70" width="33.60" height="20.13" fill="#5fb3cb" stroke="#e9f0ee" stroke-width="0.6"/>
<text x="827.5" y="26.3" font-size="12">gma-miR396h</text>
<rect x="622.40" y="30.83" width="33.60" height="20.13" fill="#c8dfc0" stroke="#e9f0ee" stroke-width="0.6"/>
<rect x="656.00" y="30.83" width="33.60" height="20.13" fill="#e86e2c" stroke="#e9f0ee" stroke-width="0.6"/>
<rect x="689.60" y="30.83" width="33.60" height="20.13" fill="#f1cf98" stroke="#e9f0ee" stroke-width="0.6"/>
<rect x="723.20" y="30.83" width="33.60" height="20.13" fill="#2b9dd6" stroke="#e9f0ee" stroke-width="0.6"/>
<rect x="756.80" y="30.83" width="33.60" height="20.13" fill="#7cbec0" stroke="#e9f0ee" stroke-width="0.6"/>
<rect x="790.40" y="30.83" width="33.60" height="20.13" fill="#5fb3cb" stroke="#e9f0ee" stroke-width="0.6"/>
<text x="827.5" y="46.4" font-size="12">novel_92</text>
<rect x="622.40" y="50.96" width="33.60" height="20.13" fill="#8ec5ba" stroke="#e9f0ee" stroke-width="0.6"/>
<rect x="656.00" y="50.96" width="33.60" height="20.13" fill="#efbc86" stroke="#e9f0ee" stroke-width="0.6"/>
<rect x="689.60" y="50.96" width="33.60" height="20.13" fill="#e86e2c" stroke="#e9f0ee" stroke-width="0.6"/>
<rect x="723.20" y="50.96" width="33.60" height="20.13" fill="#93c8ba" stroke="#e9f0ee" stroke-width="0.6"/>
<rect x="756.80" y="50.96" width="33.60" height="20.13" fill="#35a2d2" stroke="#e9f0ee" stroke-width="0.6"/>
<rect x="790.40" y="50.96" width="33.60" height="20.13" fill="#62b5ca" stroke="#e9f0ee" stroke-width="0.6"/>
<text x="827.5" y="66.5" font-size="12">ath-miR396a-5p</text>
<rect x="622.40" y="71.09" width="33.60" height="20.13" fill="#1a96da" stroke="#e9f0ee" stroke-width="0.6"/>
<rect x="656.00" y="71.09" width="33.60" height="20.13" fill="#acd3bd" stroke="#e9f0ee" stroke-width="0.6"/>
<rect x="689.60" y="71.09" width="33.60" height="20.13" fill="#d0e1bf" stroke="#e9f0ee" stroke-width="0.6"/>
<rect x="723.20" y="71.09" width="33.60" height="20.13" fill="#6ab8c8" stroke="#e9f0ee" stroke-width="0.6"/>
<rect x="756.80" y="71.09" width="33.60" height="20.13" fill="#f3e2ae" stroke="#e9f0ee" stroke-width="0.6"/>
<rect x="790.40" y="71.09" width="33.60" height="20.13" fill="#e86e2c" stroke="#e9f0ee" stroke-width="0.6"/>
<text x="827.5" y="86.6" font-size="12">csi-miR396e-5p</text>
<rect x="622.40" y="91.22" width="33.60" height="20.13" fill="#a8d1bd" stroke="#e9f0ee" stroke-width="0.6"/>
<rect x="656.00" y="91.22" width="33.60" height="20.13" fill="#f0c28c" stroke="#e9f0ee" stroke-width="0.6"/>
<rect x="689.60" y="91.22" width="33.60" height="20.13" fill="#e86e2c" stroke="#e9f0ee" stroke-width="0.6"/>
<rect x="723.20" y="91.22" width="33.60" height="20.13" fill="#a0cebc" stroke="#e9f0ee" stroke-width="0.6"/>
<rect x="756.80" y="91.22" width="33.60" height="20.13" fill="#2b9dd6" stroke="#e9f0ee" stroke-width="0.6"/>
<rect x="790.40" y="91.22" width="33.60" height="20.13" fill="#5cb2cc" stroke="#e9f0ee" stroke-width="0.6"/>
<text x="827.5" y="106.7" font-size="12">pab-miR394a</text>
<rect x="622.40" y="111.35" width="33.60" height="20.13" fill="#f0dba6" stroke="#e9f0ee" stroke-width="0.6"/>
<rect x="656.00" y="111.35" width="33.60" height="20.13" fill="#cbdfc0" stroke="#e9f0ee" stroke-width="0.6"/>
<rect x="689.60" y="111.35" width="33.60" height="20.13" fill="#e86e2c" stroke="#e9f0ee" stroke-width="0.6"/>
<rect x="723.20" y="111.35" width="33.60" height="20.13" fill="#98cabb" stroke="#e9f0ee" stroke-width="0.6"/>
<rect x="756.80" y="111.35" width="33.60" height="20.13" fill="#5fb3cb" stroke="#e9f0ee" stroke-width="0.6"/>
<rect x="790.40" y="111.35" width="33.60" height="20.13" fill="#2b9dd6" stroke="#e9f0ee" stroke-width="0.6"/>
<text x="827.5" y="126.8" font-size="12">ath-miR394a</text>
<defs><linearGradient id="gb" x1="0" y1="0" x2="0" y2="1"><stop offset="0" stop-color="#e8601c"/><stop offset="0.27" stop-color="#f0a868"/><stop offset="0.53" stop-color="#f5ebaa"/><stop offset="0.66" stop-color="#b4d8b4"/><stop offset="0.8" stop-color="#60b0cc"/><stop offset="1" stop-color="#1088e0"/></linearGradient></defs>
<rect x="923" y="12.5" width="11.7" height="91.7" fill="url(#gb)"/>
<line x1="934.7" y1="12.5" x2="936.7" y2="12.5" stroke="#000" stroke-width="0.6"/>
<text x="938.0" y="15.8" font-size="8.3">2.00</text>
<line x1="934.7" y1="25.5" x2="936.7" y2="25.5" stroke="#000" stroke-width="0.6"/>
<text x="938.0" y="28.8" font-size="8.3">1.50</text>
<line x1="934.7" y1="38.5" x2="936.7" y2="38.5" stroke="#000" stroke-width="0.6"/>
<text x="938.0" y="41.8" font-size="8.3">1.00</text>
<line x1="934.7" y1="51.5" x2="936.7" y2="51.5" stroke="#000" stroke-width="0.6"/>
<text x="938.0" y="54.8" font-size="8.3">0.50</text>
<line x1="934.7" y1="64.5" x2="936.7" y2="64.5" stroke="#000" stroke-width="0.6"/>
<text x="938.0" y="67.8" font-size="8.3">0.00</text>
<line x1="934.7" y1="78.5" x2="936.7" y2="78.5" stroke="#000" stroke-width="0.6"/>
<text x="936.7" y="80.8" font-size="8.3">-0.50</text>
<line x1="934.7" y1="91.5" x2="936.7" y2="91.5" stroke="#000" stroke-width="0.6"/>
<text x="936.7" y="93.7" font-size="8.3">-1.00</text>
<line x1="934.7" y1="104.5" x2="936.7" y2="104.5" stroke="#000" stroke-width="0.6"/>
<text x="936.7" y="106.7" font-size="8.3">-1.50</text>
<line x1="624.5" y1="134.5" x2="719.4" y2="134.5" stroke="#3a3aa8" stroke-width="1.2"/>
<line x1="725.6" y1="134.5" x2="820.0" y2="134.5" stroke="#ffc000" stroke-width="1.2"/>
<text x="660.7" y="148.5" font-size="13" text-anchor="middle">CK</text>
<text x="771.8" y="148.5" font-size="13" text-anchor="middle">NanoPS</text>
<text x="582.5" y="141.3" font-size="22">(c)</text>
<text x="601.6" y="170.0" font-size="13" textLength="277.5" lengthAdjust="spacingAndGlyphs" xml:space="preserve">CCUCCACCUGUCUUACGGUC– PTG015741L.6</text>
<text x="603.0" y="205.0" font-size="13" textLength="264.5" lengthAdjust="spacingAndGlyphs" xml:space="preserve">GGAGGCGGAC-GAGAGCCAG– pab-miR394a</text>
<text x="586.0" y="220.0" font-size="13" textLength="298.6" lengthAdjust="spacingAndGlyphs" xml:space="preserve">CGAGGUGUAUAAGUUUCUGUU– PTG005783L.42</text>
<text x="586.0" y="254.8" font-size="13" textLength="255.7" lengthAdjust="spacingAndGlyphs" xml:space="preserve">GCUCCACCUUUUCAAAG—CAG–novel_92</text>
<text x="586.0" y="289.4" font-size="13" textLength="298.6" lengthAdjust="spacingAndGlyphs" xml:space="preserve">CGAGGUGUAUAAGUUUCUGUU– PTG005495L.73</text>
<text x="585.8" y="301.4" font-size="13" textLength="289.5" lengthAdjust="spacingAndGlyphs" xml:space="preserve">UCAAGUUCUUUCGGCACCUU–  PTG009035L.19</text>
<text x="585.8" y="336.7" font-size="13" textLength="284.2" lengthAdjust="spacingAndGlyphs" xml:space="preserve">AGCUCCUGAAAGUUGUGGAC– csi-miR396e-5p</text>
<text x="585.8" y="370.0" font-size="13" textLength="285.2" lengthAdjust="spacingAndGlyphs" xml:space="preserve">UCAAGUUCUUUCGGCACCUU– PTG007509L.35</text>
<text x="587.0" y="387.4" font-size="13" textLength="286.0" lengthAdjust="spacingAndGlyphs" xml:space="preserve">GUCAAGUUCUUUCGACACCU– PTG002191L.54</text>
<text x="587.0" y="422.0" font-size="13" textLength="274.6" lengthAdjust="spacingAndGlyphs" xml:space="preserve">CACACCAUGAAAGCUGUGGA– gma-miR396h</text>
<text x="582.0" y="438.5" font-size="13" textLength="291.0" lengthAdjust="spacingAndGlyphs" xml:space="preserve">CCUCCACCUGUCUUACGGUU– PTG007674L.103</text>
<text x="582.0" y="473.3" font-size="13" textLength="264.0" lengthAdjust="spacingAndGlyphs" xml:space="preserve">UGAAGUUGAUA-AAUGCCAA– ath-miR394a</text>
<text x="585.0" y="497.5" font-size="13" textLength="288.0" lengthAdjust="spacingAndGlyphs" xml:space="preserve">GUCAAGUUCUUUCGACACCUU– PTG019605L.1</text>
<text x="585.0" y="532.7" font-size="13" textLength="297.5" lengthAdjust="spacingAndGlyphs" xml:space="preserve">GAGUUGGAGAGAGUUGUGGGA– ath-miR396a-5p</text>
<line x1="604.5" y1="172.8" x2="604.5" y2="194.4" stroke="#000" stroke-width="1.5"/>
<line x1="615.5" y1="172.8" x2="615.5" y2="194.4" stroke="#000" stroke-width="1.5"/>
<line x1="625.5" y1="172.8" x2="625.5" y2="194.4" stroke="#000" stroke-width="1.5"/>
<line x1="635.5" y1="172.8" x2="635.5" y2="194.4" stroke="#000" stroke-width="1.5"/>
<line x1="645.5" y1="172.8" x2="645.5" y2="194.4" stroke="#000" stroke-width="1.5"/>
<line x1="664.5" y1="172.8" x2="664.5" y2="194.4" stroke="#000" stroke-width="1.5"/>
<line x1="673.5" y1="172.8" x2="673.5" y2="194.4" stroke="#000" stroke-width="1.5"/>
<line x1="682.5" y1="172.8" x2="682.5" y2="194.4" stroke="#000" stroke-width="1.5"/>
<line x1="691.5" y1="172.8" x2="691.5" y2="194.4" stroke="#000" stroke-width="1.5"/>
<line x1="708.5" y1="172.8" x2="708.5" y2="194.4" stroke="#000" stroke-width="1.5"/>
<line x1="718.5" y1="172.8" x2="718.5" y2="194.4" stroke="#000" stroke-width="1.5"/>
<line x1="727.5" y1="172.8" x2="727.5" y2="194.4" stroke="#000" stroke-width="1.5"/>
<line x1="745.5" y1="172.8" x2="745.5" y2="194.4" stroke="#000" stroke-width="1.5"/>
<line x1="755.5" y1="172.8" x2="755.5" y2="194.4" stroke="#000" stroke-width="1.5"/>
<line x1="765.5" y1="172.8" x2="765.5" y2="194.4" stroke="#000" stroke-width="1.5"/>
<line x1="775.5" y1="172.8" x2="775.5" y2="194.4" stroke="#000" stroke-width="1.5"/>
<line x1="784.5" y1="172.8" x2="784.5" y2="194.4" stroke="#000" stroke-width="1.5"/>
<line x1="589.5" y1="223.1" x2="589.5" y2="243.0" stroke="#000" stroke-width="1.5"/>
<line x1="598.5" y1="223.1" x2="598.5" y2="243.0" stroke="#000" stroke-width="1.5"/>
<line x1="608.5" y1="223.1" x2="608.5" y2="243.0" stroke="#000" stroke-width="1.5"/>
<line x1="618.5" y1="223.1" x2="618.5" y2="243.0" stroke="#000" stroke-width="1.5"/>
<line x1="627.5" y1="223.1" x2="627.5" y2="243.0" stroke="#000" stroke-width="1.5"/>
<line x1="637.5" y1="223.1" x2="637.5" y2="243.0" stroke="#000" stroke-width="1.5"/>
<line x1="647.5" y1="223.1" x2="647.5" y2="243.0" stroke="#000" stroke-width="1.5"/>
<line x1="667.5" y1="223.1" x2="667.5" y2="243.0" stroke="#000" stroke-width="1.5"/>
<line x1="686.5" y1="223.1" x2="686.5" y2="243.0" stroke="#000" stroke-width="1.5"/>
<line x1="695.5" y1="223.1" x2="695.5" y2="243.0" stroke="#000" stroke-width="1.5"/>
<line x1="704.5" y1="223.1" x2="704.5" y2="243.0" stroke="#000" stroke-width="1.5"/>
<line x1="713.5" y1="223.1" x2="713.5" y2="243.0" stroke="#000" stroke-width="1.5"/>
<line x1="723.5" y1="223.1" x2="723.5" y2="243.0" stroke="#000" stroke-width="1.5"/>
<line x1="732.5" y1="223.1" x2="732.5" y2="243.0" stroke="#000" stroke-width="1.5"/>
<line x1="741.5" y1="223.1" x2="741.5" y2="243.0" stroke="#000" stroke-width="1.5"/>
<line x1="762.5" y1="223.1" x2="762.5" y2="243.0" stroke="#000" stroke-width="1.5"/>
<line x1="772.5" y1="223.1" x2="772.5" y2="243.0" stroke="#000" stroke-width="1.5"/>
<line x1="589.5" y1="256.7" x2="589.5" y2="276.6" stroke="#000" stroke-width="1.5"/>
<line x1="598.5" y1="256.7" x2="598.5" y2="276.6" stroke="#000" stroke-width="1.5"/>
<line x1="608.5" y1="256.7" x2="608.5" y2="276.6" stroke="#000" stroke-width="1.5"/>
<line x1="618.5" y1="256.7" x2="618.5" y2="276.6" stroke="#000" stroke-width="1.5"/>
<line x1="627.5" y1="256.7" x2="627.5" y2="276.6" stroke="#000" stroke-width="1.5"/>
<line x1="637.5" y1="256.7" x2="637.5" y2="276.6" stroke="#000" stroke-width="1.5"/>
<line x1="647.5" y1="256.7" x2="647.5" y2="276.6" stroke="#000" stroke-width="1.5"/>
<line x1="667.5" y1="256.7" x2="667.5" y2="276.6" stroke="#000" stroke-width="1.5"/>
<line x1="686.5" y1="256.7" x2="686.5" y2="276.6" stroke="#000" stroke-width="1.5"/>
<line x1="695.5" y1="256.7" x2="695.5" y2="276.6" stroke="#000" stroke-width="1.5"/>
<line x1="704.5" y1="256.7" x2="704.5" y2="276.6" stroke="#000" stroke-width="1.5"/>
<line x1="713.5" y1="256.7" x2="713.5" y2="276.6" stroke="#000" stroke-width="1.5"/>
<line x1="723.5" y1="256.7" x2="723.5" y2="276.6" stroke="#000" stroke-width="1.5"/>
<line x1="732.5" y1="256.7" x2="732.5" y2="276.6" stroke="#000" stroke-width="1.5"/>
<line x1="741.5" y1="256.7" x2="741.5" y2="276.6" stroke="#000" stroke-width="1.5"/>
<line x1="762.5" y1="256.7" x2="762.5" y2="276.6" stroke="#000" stroke-width="1.5"/>
<line x1="772.5" y1="256.7" x2="772.5" y2="276.6" stroke="#000" stroke-width="1.5"/>
<line x1="591.5" y1="304.6" x2="591.5" y2="325.0" stroke="#000" stroke-width="1.5"/>
<line x1="598.5" y1="304.6" x2="598.5" y2="325.0" stroke="#000" stroke-width="1.5"/>
<line x1="618.5" y1="304.6" x2="618.5" y2="325.0" stroke="#000" stroke-width="1.5"/>
<line x1="627.5" y1="304.6" x2="627.5" y2="325.0" stroke="#000" stroke-width="1.5"/>
<line x1="656.5" y1="304.6" x2="656.5" y2="325.0" stroke="#000" stroke-width="1.5"/>
<line x1="666.5" y1="304.6" x2="666.5" y2="325.0" stroke="#000" stroke-width="1.5"/>
<line x1="676.5" y1="304.6" x2="676.5" y2="325.0" stroke="#000" stroke-width="1.5"/>
<line x1="686.5" y1="304.6" x2="686.5" y2="325.0" stroke="#000" stroke-width="1.5"/>
<line x1="695.5" y1="304.6" x2="695.5" y2="325.0" stroke="#000" stroke-width="1.5"/>
<line x1="723.5" y1="304.6" x2="723.5" y2="325.0" stroke="#000" stroke-width="1.5"/>
<line x1="732.5" y1="304.6" x2="732.5" y2="325.0" stroke="#000" stroke-width="1.5"/>
<line x1="741.5" y1="304.6" x2="741.5" y2="325.0" stroke="#000" stroke-width="1.5"/>
<line x1="750.5" y1="304.6" x2="750.5" y2="325.0" stroke="#000" stroke-width="1.5"/>
<line x1="759.5" y1="304.6" x2="759.5" y2="325.0" stroke="#000" stroke-width="1.5"/>
<line x1="591.5" y1="338.2" x2="591.5" y2="357.8" stroke="#000" stroke-width="1.5"/>
<line x1="598.5" y1="338.2" x2="598.5" y2="357.8" stroke="#000" stroke-width="1.5"/>
<line x1="618.5" y1="338.2" x2="618.5" y2="357.8" stroke="#000" stroke-width="1.5"/>
<line x1="627.5" y1="338.2" x2="627.5" y2="357.8" stroke="#000" stroke-width="1.5"/>
<line x1="656.5" y1="338.2" x2="656.5" y2="357.8" stroke="#000" stroke-width="1.5"/>
<line x1="666.5" y1="338.2" x2="666.5" y2="357.8" stroke="#000" stroke-width="1.5"/>
<line x1="676.5" y1="338.2" x2="676.5" y2="357.8" stroke="#000" stroke-width="1.5"/>
<line x1="686.5" y1="338.2" x2="686.5" y2="357.8" stroke="#000" stroke-width="1.5"/>
<line x1="695.5" y1="338.2" x2="695.5" y2="357.8" stroke="#000" stroke-width="1.5"/>
<line x1="723.5" y1="338.2" x2="723.5" y2="357.8" stroke="#000" stroke-width="1.5"/>
<line x1="732.5" y1="338.2" x2="732.5" y2="357.8" stroke="#000" stroke-width="1.5"/>
<line x1="741.5" y1="338.2" x2="741.5" y2="357.8" stroke="#000" stroke-width="1.5"/>
<line x1="750.5" y1="338.2" x2="750.5" y2="357.8" stroke="#000" stroke-width="1.5"/>
<line x1="759.5" y1="338.2" x2="759.5" y2="357.8" stroke="#000" stroke-width="1.5"/>
<line x1="589.5" y1="389.7" x2="589.5" y2="409.6" stroke="#000" stroke-width="1.5"/>
<line x1="598.5" y1="389.7" x2="598.5" y2="409.6" stroke="#000" stroke-width="1.5"/>
<line x1="637.5" y1="389.7" x2="637.5" y2="409.6" stroke="#000" stroke-width="1.5"/>
<line x1="646.5" y1="389.7" x2="646.5" y2="409.6" stroke="#000" stroke-width="1.5"/>
<line x1="666.5" y1="389.7" x2="666.5" y2="409.6" stroke="#000" stroke-width="1.5"/>
<line x1="675.5" y1="389.7" x2="675.5" y2="409.6" stroke="#000" stroke-width="1.5"/>
<line x1="684.5" y1="389.7" x2="684.5" y2="409.6" stroke="#000" stroke-width="1.5"/>
<line x1="694.5" y1="389.7" x2="694.5" y2="409.6" stroke="#000" stroke-width="1.5"/>
<line x1="703.5" y1="389.7" x2="703.5" y2="409.6" stroke="#000" stroke-width="1.5"/>
<line x1="713.5" y1="389.7" x2="713.5" y2="409.6" stroke="#000" stroke-width="1.5"/>
<line x1="722.5" y1="389.7" x2="722.5" y2="409.6" stroke="#000" stroke-width="1.5"/>
<line x1="731.5" y1="389.7" x2="731.5" y2="409.6" stroke="#000" stroke-width="1.5"/>
<line x1="741.5" y1="389.7" x2="741.5" y2="409.6" stroke="#000" stroke-width="1.5"/>
<line x1="751.5" y1="389.7" x2="751.5" y2="409.6" stroke="#000" stroke-width="1.5"/>
<line x1="760.5" y1="389.7" x2="760.5" y2="409.6" stroke="#000" stroke-width="1.5"/>
<line x1="770.5" y1="389.7" x2="770.5" y2="409.6" stroke="#000" stroke-width="1.5"/>
<line x1="596.5" y1="440.5" x2="596.5" y2="461.5" stroke="#000" stroke-width="1.5"/>
<line x1="604.5" y1="440.5" x2="604.5" y2="461.5" stroke="#000" stroke-width="1.5"/>
<line x1="624.5" y1="440.5" x2="624.5" y2="461.5" stroke="#000" stroke-width="1.5"/>
<line x1="633.5" y1="440.5" x2="633.5" y2="461.5" stroke="#000" stroke-width="1.5"/>
<line x1="652.5" y1="440.5" x2="652.5" y2="461.5" stroke="#000" stroke-width="1.5"/>
<line x1="661.5" y1="440.5" x2="661.5" y2="461.5" stroke="#000" stroke-width="1.5"/>
<line x1="680.5" y1="440.5" x2="680.5" y2="461.5" stroke="#000" stroke-width="1.5"/>
<line x1="698.5" y1="440.5" x2="698.5" y2="461.5" stroke="#000" stroke-width="1.5"/>
<line x1="707.5" y1="440.5" x2="707.5" y2="461.5" stroke="#000" stroke-width="1.5"/>
<line x1="717.5" y1="440.5" x2="717.5" y2="461.5" stroke="#000" stroke-width="1.5"/>
<line x1="726.5" y1="440.5" x2="726.5" y2="461.5" stroke="#000" stroke-width="1.5"/>
<line x1="735.5" y1="440.5" x2="735.5" y2="461.5" stroke="#000" stroke-width="1.5"/>
<line x1="745.5" y1="440.5" x2="745.5" y2="461.5" stroke="#000" stroke-width="1.5"/>
<line x1="754.5" y1="440.5" x2="754.5" y2="461.5" stroke="#000" stroke-width="1.5"/>
<line x1="763.5" y1="440.5" x2="763.5" y2="461.5" stroke="#000" stroke-width="1.5"/>
<line x1="588.5" y1="499.7" x2="588.5" y2="520.3" stroke="#000" stroke-width="1.5"/>
<line x1="597.5" y1="499.7" x2="597.5" y2="520.3" stroke="#000" stroke-width="1.5"/>
<line x1="636.5" y1="499.7" x2="636.5" y2="520.3" stroke="#000" stroke-width="1.5"/>
<line x1="645.5" y1="499.7" x2="645.5" y2="520.3" stroke="#000" stroke-width="1.5"/>
<line x1="664.5" y1="499.7" x2="664.5" y2="520.3" stroke="#000" stroke-width="1.5"/>
<line x1="673.5" y1="499.7" x2="673.5" y2="520.3" stroke="#000" stroke-width="1.5"/>
<line x1="682.5" y1="499.7" x2="682.5" y2="520.3" stroke="#000" stroke-width="1.5"/>
<line x1="691.5" y1="499.7" x2="691.5" y2="520.3" stroke="#000" stroke-width="1.5"/>
<line x1="701.5" y1="499.7" x2="701.5" y2="520.3" stroke="#000" stroke-width="1.5"/>
<line x1="710.5" y1="499.7" x2="710.5" y2="520.3" stroke="#000" stroke-width="1.5"/>
<line x1="720.5" y1="499.7" x2="720.5" y2="520.3" stroke="#000" stroke-width="1.5"/>
<line x1="729.5" y1="499.7" x2="729.5" y2="520.3" stroke="#000" stroke-width="1.5"/>
<line x1="738.5" y1="499.7" x2="738.5" y2="520.3" stroke="#000" stroke-width="1.5"/>
<line x1="748.5" y1="499.7" x2="748.5" y2="520.3" stroke="#000" stroke-width="1.5"/>
<line x1="758.5" y1="499.7" x2="758.5" y2="520.3" stroke="#000" stroke-width="1.5"/>
<line x1="768.5" y1="499.7" x2="768.5" y2="520.3" stroke="#000" stroke-width="1.5"/>
<ellipse cx="902.1" cy="164.5" rx="23.0" ry="11.1" fill="#f8f410"/>
<text x="902.6" y="169.8" font-size="13" text-anchor="middle">4CL</text>
<ellipse cx="908.5" cy="216.0" rx="23.4" ry="10.8" fill="#f8f410"/>
<text x="909.0" y="221.3" font-size="13" text-anchor="middle">ANR</text>
<ellipse cx="912.1" cy="281.9" rx="23.1" ry="10.6" fill="#f8f410"/>
<text x="912.6" y="287.2" font-size="13" text-anchor="middle">DFR</text>
<ellipse cx="908.5" cy="302.7" rx="23.4" ry="11.0" fill="#f8f410"/>
<text x="909.0" y="308.0" font-size="13" text-anchor="middle">PAL</text>
<ellipse cx="904.5" cy="362.9" rx="23.0" ry="10.4" fill="#f8f410"/>
<text x="905.0" y="368.2" font-size="13" text-anchor="middle">F3H</text>
<ellipse cx="906.0" cy="384.5" rx="23.0" ry="10.4" fill="#f8f410"/>
<text x="906.5" y="389.8" font-size="13" text-anchor="middle">LAR</text>
<ellipse cx="906.0" cy="430.0" rx="23.7" ry="10.4" fill="#f8f410"/>
<text x="906.5" y="435.3" font-size="13" text-anchor="middle">COMT</text>
<ellipse cx="906.0" cy="494.0" rx="23.0" ry="10.4" fill="#f8f410"/>
<text x="906.5" y="499.3" font-size="13" text-anchor="middle">C4H</text>
<text x="545.0" y="526.5" font-size="22">(d)</text>
<rect x="561.60" y="542.60" width="23.35" height="10.50" fill="#6060e8"/>
<rect x="584.95" y="542.60" width="23.35" height="10.50" fill="#b4b4f8"/>
<rect x="608.30" y="542.60" width="23.35" height="10.50" fill="#5858e8"/>
<rect x="631.65" y="542.60" width="23.35" height="10.50" fill="#ffff38"/>
<rect x="655.00" y="542.60" width="23.35" height="10.50" fill="#ffffa8"/>
<rect x="678.35" y="542.60" width="23.35" height="10.50" fill="#ffff80"/>
<text x="705.1" y="552.3" font-size="12.6">ANS</text>
<rect x="561.60" y="559.70" width="23.35" height="12.30" fill="#8888ec"/>
<rect x="584.95" y="559.70" width="23.35" height="12.30" fill="#7070ea"/>
<rect x="608.30" y="559.70" width="23.35" height="12.30" fill="#8484ec"/>
<rect x="631.65" y="559.70" width="23.35" height="12.30" fill="#ffff80"/>
<rect x="655.00" y="559.70" width="23.35" height="12.30" fill="#ffff70"/>
<rect x="678.35" y="559.70" width="23.35" height="12.30" fill="#ffff70"/>
<rect x="561.60" y="572.00" width="23.35" height="11.90" fill="#ffff70"/>
<rect x="584.95" y="572.00" width="23.35" height="11.90" fill="#ffff50"/>
<rect x="608.30" y="572.00" width="23.35" height="11.90" fill="#ffff60"/>
<rect x="631.65" y="572.00" width="23.35" height="11.90" fill="#7474ee"/>
<rect x="655.00" y="572.00" width="23.35" height="11.90" fill="#6464e4"/>
<rect x="678.35" y="572.00" width="23.35" height="11.90" fill="#6c6ce8"/>
<rect x="561.60" y="588.40" width="23.35" height="10.50" fill="#ffff60"/>
<rect x="584.95" y="588.40" width="23.35" height="10.50" fill="#ffff48"/>
<rect x="608.30" y="588.40" width="23.35" height="10.50" fill="#ffff50"/>
<rect x="631.65" y="588.40" width="23.35" height="10.50" fill="#6464e8"/>
<rect x="655.00" y="588.40" width="23.35" height="10.50" fill="#5858e4"/>
<rect x="678.35" y="588.40" width="23.35" height="10.50" fill="#5c5ce4"/>
<text x="704.5" y="597.8" font-size="12.6">CAD</text>
<rect x="561.60" y="604.90" width="23.35" height="10.50" fill="#ffff80"/>
<rect x="584.95" y="604.90" width="23.35" height="10.50" fill="#ffff58"/>
<rect x="608.30" y="604.90" width="23.35" height="10.50" fill="#ffff60"/>
<rect x="631.65" y="604.90" width="23.35" height="10.50" fill="#9494f4"/>
<rect x="655.00" y="604.90" width="23.35" height="10.50" fill="#8484f0"/>
<rect x="678.35" y="604.90" width="23.35" height="10.50" fill="#7474ec"/>
<text x="705.1" y="613.6" font-size="12.7">COMT</text>
<rect x="561.60" y="623.30" width="23.35" height="10.00" fill="#5858e4"/>
<rect x="584.95" y="623.30" width="23.35" height="10.00" fill="#3c3ce0"/>
<rect x="608.30" y="623.30" width="23.35" height="10.00" fill="#2c2ce4"/>
<rect x="631.65" y="623.30" width="23.35" height="10.00" fill="#ffff40"/>
<rect x="655.00" y="623.30" width="23.35" height="10.00" fill="#ffff50"/>
<rect x="678.35" y="623.30" width="23.35" height="10.00" fill="#ffff60"/>
<text x="704.5" y="632.0" font-size="12.6">DFR</text>
<rect x="561.60" y="641.70" width="23.35" height="11.10" fill="#1414e8"/>
<rect x="584.95" y="641.70" width="23.35" height="11.10" fill="#7070ec"/>
<rect x="608.30" y="641.70" width="23.35" height="11.10" fill="#8c8cf4"/>
<rect x="631.65" y="641.70" width="23.35" height="11.10" fill="#ffff30"/>
<rect x="655.00" y="641.70" width="23.35" height="11.10" fill="#ffff28"/>
<rect x="678.35" y="641.70" width="23.35" height="11.10" fill="#ffff40"/>
<text x="706.4" y="652.2" font-size="12.6">HCT</text>
<rect x="561.60" y="657.50" width="23.35" height="10.50" fill="#ffff40"/>
<rect x="584.95" y="657.50" width="23.35" height="10.50" fill="#ffff50"/>
<rect x="608.30" y="657.50" width="23.35" height="10.50" fill="#ffff60"/>
<rect x="631.65" y="657.50" width="23.35" height="10.50" fill="#6464e8"/>
<rect x="655.00" y="657.50" width="23.35" height="10.50" fill="#5c5ce4"/>
<rect x="678.35" y="657.50" width="23.35" height="10.50" fill="#6c6ce8"/>
<text x="703.5" y="667.8" font-size="10.4">CCoAOMT</text>
<rect x="561.60" y="673.30" width="23.35" height="10.50" fill="#ffff60"/>
<rect x="584.95" y="673.30" width="23.35" height="10.50" fill="#ffff80"/>
<rect x="608.30" y="673.30" width="23.35" height="10.50" fill="#ffffb8"/>
<rect x="631.65" y="673.30" width="23.35" height="10.50" fill="#6c6ce8"/>
<rect x="655.00" y="673.30" width="23.35" height="10.50" fill="#8484f0"/>
<rect x="678.35" y="673.30" width="23.35" height="10.50" fill="#6464e8"/>
<text x="704.3" y="684.6" font-size="12.6">TOGT1</text>
<rect x="561.60" y="688.50" width="23.35" height="10.30" fill="#0404f0"/>
<rect x="584.95" y="688.50" width="23.35" height="10.30" fill="#3434e4"/>
<rect x="608.30" y="688.50" width="23.35" height="10.30" fill="#2424dc"/>
<rect x="631.65" y="688.50" width="23.35" height="10.30" fill="#ffff20"/>
<rect x="655.00" y="688.50" width="23.35" height="10.30" fill="#ffff30"/>
<rect x="678.35" y="688.50" width="23.35" height="10.30" fill="#ffff40"/>
<text x="708.2" y="698.8" font-size="12.6">FLS</text>
<rect x="561.60" y="542.60" width="140.10" height="10.50" fill="none" stroke="#222" stroke-width="0.8"/>
<line x1="584.5" y1="542.6" x2="584.5" y2="553.1" stroke="#222" stroke-width="0.7"/>
<line x1="608.5" y1="542.6" x2="608.5" y2="553.1" stroke="#222" stroke-width="0.7"/>
<line x1="631.5" y1="542.6" x2="631.5" y2="553.1" stroke="#222" stroke-width="0.7"/>
<line x1="655.5" y1="542.6" x2="655.5" y2="553.1" stroke="#222" stroke-width="0.7"/>
<line x1="678.5" y1="542.6" x2="678.5" y2="553.1" stroke="#222" stroke-width="0.7"/>
<rect x="561.60" y="588.40" width="140.10" height="10.50" fill="none" stroke="#222" stroke-width="0.8"/>
<line x1="584.5" y1="588.4" x2="584.5" y2="598.9" stroke="#222" stroke-width="0.7"/>
<line x1="608.5" y1="588.4" x2="608.5" y2="598.9" stroke="#222" stroke-width="0.7"/>
<line x1="631.5" y1="588.4" x2="631.5" y2="598.9" stroke="#222" stroke-width="0.7"/>
<line x1="655.5" y1="588.4" x2="655.5" y2="598.9" stroke="#222" stroke-width="0.7"/>
<line x1="678.5" y1="588.4" x2="678.5" y2="598.9" stroke="#222" stroke-width="0.7"/>
<rect x="561.60" y="604.90" width="140.10" height="10.50" fill="none" stroke="#222" stroke-width="0.8"/>
<line x1="584.5" y1="604.9" x2="584.5" y2="615.4" stroke="#222" stroke-width="0.7"/>
<line x1="608.5" y1="604.9" x2="608.5" y2="615.4" stroke="#222" stroke-width="0.7"/>
<line x1="631.5" y1="604.9" x2="631.5" y2="615.4" stroke="#222" stroke-width="0.7"/>
<line x1="655.5" y1="604.9" x2="655.5" y2="615.4" stroke="#222" stroke-width="0.7"/>
<line x1="678.5" y1="604.9" x2="678.5" y2="615.4" stroke="#222" stroke-width="0.7"/>
<rect x="561.60" y="623.30" width="140.10" height="10.00" fill="none" stroke="#222" stroke-width="0.8"/>
<line x1="584.5" y1="623.3" x2="584.5" y2="633.3" stroke="#222" stroke-width="0.7"/>
<line x1="608.5" y1="623.3" x2="608.5" y2="633.3" stroke="#222" stroke-width="0.7"/>
<line x1="631.5" y1="623.3" x2="631.5" y2="633.3" stroke="#222" stroke-width="0.7"/>
<line x1="655.5" y1="623.3" x2="655.5" y2="633.3" stroke="#222" stroke-width="0.7"/>
<line x1="678.5" y1="623.3" x2="678.5" y2="633.3" stroke="#222" stroke-width="0.7"/>
<rect x="561.60" y="641.70" width="140.10" height="11.10" fill="none" stroke="#222" stroke-width="0.8"/>
<line x1="584.5" y1="641.7" x2="584.5" y2="652.8" stroke="#222" stroke-width="0.7"/>
<line x1="608.5" y1="641.7" x2="608.5" y2="652.8" stroke="#222" stroke-width="0.7"/>
<line x1="631.5" y1="641.7" x2="631.5" y2="652.8" stroke="#222" stroke-width="0.7"/>
<line x1="655.5" y1="641.7" x2="655.5" y2="652.8" stroke="#222" stroke-width="0.7"/>
<line x1="678.5" y1="641.7" x2="678.5" y2="652.8" stroke="#222" stroke-width="0.7"/>
<rect x="561.60" y="657.50" width="140.10" height="10.50" fill="none" stroke="#222" stroke-width="0.8"/>
<line x1="584.5" y1="657.5" x2="584.5" y2="668.0" stroke="#222" stroke-width="0.7"/>
<line x1="608.5" y1="657.5" x2="608.5" y2="668.0" stroke="#222" stroke-width="0.7"/>
<line x1="631.5" y1="657.5" x2="631.5" y2="668.0" stroke="#222" stroke-width="0.7"/>
<line x1="655.5" y1="657.5" x2="655.5" y2="668.0" stroke="#222" stroke-width="0.7"/>
<line x1="678.5" y1="657.5" x2="678.5" y2="668.0" stroke="#222" stroke-width="0.7"/>
<rect x="561.60" y="673.30" width="140.10" height="10.50" fill="none" stroke="#222" stroke-width="0.8"/>
<line x1="584.5" y1="673.3" x2="584.5" y2="683.8" stroke="#222" stroke-width="0.7"/>
<line x1="608.5" y1="673.3" x2="608.5" y2="683.8" stroke="#222" stroke-width="0.7"/>
<line x1="631.5" y1="673.3" x2="631.5" y2="683.8" stroke="#222" stroke-width="0.7"/>
<line x1="655.5" y1="673.3" x2="655.5" y2="683.8" stroke="#222" stroke-width="0.7"/>
<line x1="678.5" y1="673.3" x2="678.5" y2="683.8" stroke="#222" stroke-width="0.7"/>
<rect x="561.60" y="688.50" width="140.10" height="10.30" fill="none" stroke="#222" stroke-width="0.8"/>
<line x1="584.5" y1="688.5" x2="584.5" y2="698.8" stroke="#222" stroke-width="0.7"/>
<line x1="608.5" y1="688.5" x2="608.5" y2="698.8" stroke="#222" stroke-width="0.7"/>
<line x1="631.5" y1="688.5" x2="631.5" y2="698.8" stroke="#222" stroke-width="0.7"/>
<line x1="655.5" y1="688.5" x2="655.5" y2="698.8" stroke="#222" stroke-width="0.7"/>
<line x1="678.5" y1="688.5" x2="678.5" y2="698.8" stroke="#222" stroke-width="0.7"/>
<rect x="562.20" y="559.7" width="139.50" height="24.2" fill="none" stroke="#444" stroke-width="0.6"/>
<line x1="584.5" y1="559.7" x2="584.5" y2="583.9" stroke="#333" stroke-width="0.6"/>
<line x1="608.5" y1="559.7" x2="608.5" y2="583.9" stroke="#333" stroke-width="0.6"/>
<line x1="631.5" y1="559.7" x2="631.5" y2="583.9" stroke="#333" stroke-width="0.6"/>
<line x1="655.5" y1="559.7" x2="655.5" y2="583.9" stroke="#333" stroke-width="0.6"/>
<line x1="678.5" y1="559.7" x2="678.5" y2="583.9" stroke="#333" stroke-width="0.6"/>
<text x="705.1" y="575.2" font-size="12.6">C3H</text>
<line x1="565.0" y1="703.5" x2="632.0" y2="703.5" stroke="#4444b0" stroke-width="1.2"/>
<line x1="636.0" y1="703.5" x2="703.0" y2="703.5" stroke="#ffc000" stroke-width="1.2"/>
<text x="587.3" y="716.7" font-size="12.8">CK</text>
<text x="652.5" y="716.7" font-size="13">NanoPS</text>
<rect x="760.00" y="554.95" width="24.02" height="10.05" fill="#3465b5"/>
<rect x="783.72" y="554.95" width="24.02" height="10.05" fill="#5e84c6"/>
<rect x="807.44" y="554.95" width="24.02" height="10.05" fill="#2f5fb2"/>
<rect x="831.16" y="554.95" width="24.02" height="10.05" fill="#f3c8c8"/>
<rect x="854.88" y="554.95" width="24.02" height="10.05" fill="#f5dede"/>
<rect x="878.60" y="554.95" width="24.02" height="10.05" fill="#d63030"/>
<line x1="783.5" y1="555.0" x2="783.5" y2="565.0" stroke="#ffffff" stroke-width="0.4"/>
<line x1="807.5" y1="555.0" x2="807.5" y2="565.0" stroke="#ffffff" stroke-width="0.4"/>
<line x1="831.5" y1="555.0" x2="831.5" y2="565.0" stroke="#ffffff" stroke-width="0.4"/>
<line x1="854.5" y1="555.0" x2="854.5" y2="565.0" stroke="#ffffff" stroke-width="0.4"/>
<line x1="878.5" y1="555.0" x2="878.5" y2="565.0" stroke="#ffffff" stroke-width="0.4"/>
<text x="906.0" y="563.7" font-size="13">4CL</text>
<rect x="760.00" y="571.12" width="24.02" height="10.05" fill="#c5d0ea"/>
<rect x="783.72" y="571.12" width="24.02" height="10.05" fill="#d22b2b"/>
<rect x="807.44" y="571.12" width="24.02" height="10.05" fill="#de5a5a"/>
<rect x="831.16" y="571.12" width="24.02" height="10.05" fill="#a6b8de"/>
<rect x="854.88" y="571.12" width="24.02" height="10.05" fill="#8aa2d4"/>
<rect x="878.60" y="571.12" width="24.02" height="10.05" fill="#2f5fb2"/>
<line x1="783.5" y1="571.1" x2="783.5" y2="581.2" stroke="#ffffff" stroke-width="0.4"/>
<line x1="807.5" y1="571.1" x2="807.5" y2="581.2" stroke="#ffffff" stroke-width="0.4"/>
<line x1="831.5" y1="571.1" x2="831.5" y2="581.2" stroke="#ffffff" stroke-width="0.4"/>
<line x1="854.5" y1="571.1" x2="854.5" y2="581.2" stroke="#ffffff" stroke-width="0.4"/>
<line x1="878.5" y1="571.1" x2="878.5" y2="581.2" stroke="#ffffff" stroke-width="0.4"/>
<text x="906.0" y="580.3" font-size="13">ANR</text>
<rect x="760.00" y="584.23" width="24.02" height="10.92" fill="#6f90cc"/>
<rect x="783.72" y="584.23" width="24.02" height="10.92" fill="#2f5fb2"/>
<rect x="807.44" y="584.23" width="24.02" height="10.92" fill="#bfcce8"/>
<rect x="831.16" y="584.23" width="24.02" height="10.92" fill="#2f5fb2"/>
<rect x="854.88" y="584.23" width="24.02" height="10.92" fill="#d42a2a"/>
<rect x="878.60" y="584.23" width="24.02" height="10.92" fill="#e48080"/>
<line x1="783.5" y1="584.2" x2="783.5" y2="595.1" stroke="#ffffff" stroke-width="0.4"/>
<line x1="807.5" y1="584.2" x2="807.5" y2="595.1" stroke="#ffffff" stroke-width="0.4"/>
<line x1="831.5" y1="584.2" x2="831.5" y2="595.1" stroke="#ffffff" stroke-width="0.4"/>
<line x1="854.5" y1="584.2" x2="854.5" y2="595.1" stroke="#ffffff" stroke-width="0.4"/>
<line x1="878.5" y1="584.2" x2="878.5" y2="595.1" stroke="#ffffff" stroke-width="0.4"/>
<text x="906.0" y="594.3" font-size="13">C4H</text>
<rect x="760.00" y="599.69" width="24.02" height="14.42" fill="#fafafc"/>
<rect x="783.72" y="599.69" width="24.02" height="14.42" fill="#d22b2b"/>
<rect x="807.44" y="599.69" width="24.02" height="14.42" fill="#8ca4d5"/>
<rect x="831.16" y="599.69" width="24.02" height="14.42" fill="#2f5fb2"/>
<rect x="854.88" y="599.69" width="24.02" height="14.42" fill="#cdd7ee"/>
<rect x="878.60" y="599.69" width="24.02" height="14.42" fill="#d63030"/>
<line x1="783.5" y1="599.7" x2="783.5" y2="614.1" stroke="#ffffff" stroke-width="0.4"/>
<line x1="807.5" y1="599.7" x2="807.5" y2="614.1" stroke="#ffffff" stroke-width="0.4"/>
<line x1="831.5" y1="599.7" x2="831.5" y2="614.1" stroke="#ffffff" stroke-width="0.4"/>
<line x1="854.5" y1="599.7" x2="854.5" y2="614.1" stroke="#ffffff" stroke-width="0.4"/>
<line x1="878.5" y1="599.7" x2="878.5" y2="614.1" stroke="#ffffff" stroke-width="0.4"/>
<text x="906.0" y="612.6" font-size="13">COMT</text>
<rect x="760.00" y="616.99" width="24.02" height="13.54" fill="#edb5b5"/>
<rect x="783.72" y="616.99" width="24.02" height="13.54" fill="#f0c0c0"/>
<rect x="807.44" y="616.99" width="24.02" height="13.54" fill="#2f5fb2"/>
<rect x="831.16" y="616.99" width="24.02" height="13.54" fill="#d22b2b"/>
<rect x="854.88" y="616.99" width="24.02" height="13.54" fill="#dc5050"/>
<rect x="878.60" y="616.99" width="24.02" height="13.54" fill="#f3d0d0"/>
<line x1="783.5" y1="617.0" x2="783.5" y2="630.5" stroke="#ffffff" stroke-width="0.4"/>
<line x1="807.5" y1="617.0" x2="807.5" y2="630.5" stroke="#ffffff" stroke-width="0.4"/>
<line x1="831.5" y1="617.0" x2="831.5" y2="630.5" stroke="#ffffff" stroke-width="0.4"/>
<line x1="854.5" y1="617.0" x2="854.5" y2="630.5" stroke="#ffffff" stroke-width="0.4"/>
<line x1="878.5" y1="617.0" x2="878.5" y2="630.5" stroke="#ffffff" stroke-width="0.4"/>
<text x="906.0" y="629.2" font-size="13">DFR</text>
<rect x="760.00" y="632.29" width="24.02" height="14.42" fill="#c0cde9"/>
<rect x="783.72" y="632.29" width="24.02" height="14.42" fill="#2f5fb2"/>
<rect x="807.44" y="632.29" width="24.02" height="14.42" fill="#3363b4"/>
<rect x="831.16" y="632.29" width="24.02" height="14.42" fill="#d22b2b"/>
<rect x="854.88" y="632.29" width="24.02" height="14.42" fill="#9db1db"/>
<rect x="878.60" y="632.29" width="24.02" height="14.42" fill="#e48080"/>
<line x1="783.5" y1="632.3" x2="783.5" y2="646.7" stroke="#ffffff" stroke-width="0.4"/>
<line x1="807.5" y1="632.3" x2="807.5" y2="646.7" stroke="#ffffff" stroke-width="0.4"/>
<line x1="831.5" y1="632.3" x2="831.5" y2="646.7" stroke="#ffffff" stroke-width="0.4"/>
<line x1="854.5" y1="632.3" x2="854.5" y2="646.7" stroke="#ffffff" stroke-width="0.4"/>
<line x1="878.5" y1="632.3" x2="878.5" y2="646.7" stroke="#ffffff" stroke-width="0.4"/>
<text x="906.0" y="643.6" font-size="13">F3H</text>
<rect x="760.00" y="648.89" width="24.02" height="12.23" fill="#a9bbdf"/>
<rect x="783.72" y="648.89" width="24.02" height="12.23" fill="#5e84c6"/>
<rect x="807.44" y="648.89" width="24.02" height="12.23" fill="#2f5fb2"/>
<rect x="831.16" y="648.89" width="24.02" height="12.23" fill="#dc5050"/>
<rect x="854.88" y="648.89" width="24.02" height="12.23" fill="#d93f3f"/>
<rect x="878.60" y="648.89" width="24.02" height="12.23" fill="#d22b2b"/>
<line x1="783.5" y1="648.9" x2="783.5" y2="661.1" stroke="#ffffff" stroke-width="0.4"/>
<line x1="807.5" y1="648.9" x2="807.5" y2="661.1" stroke="#ffffff" stroke-width="0.4"/>
<line x1="831.5" y1="648.9" x2="831.5" y2="661.1" stroke="#ffffff" stroke-width="0.4"/>
<line x1="854.5" y1="648.9" x2="854.5" y2="661.1" stroke="#ffffff" stroke-width="0.4"/>
<line x1="878.5" y1="648.9" x2="878.5" y2="661.1" stroke="#ffffff" stroke-width="0.4"/>
<text x="906.0" y="659.8" font-size="13">LAR</text>
<rect x="760.00" y="664.18" width="24.02" height="13.54" fill="#d22b2b"/>
<rect x="783.72" y="664.18" width="24.02" height="13.54" fill="#3a69b8"/>
<rect x="807.44" y="664.18" width="24.02" height="13.54" fill="#bfcce8"/>
<rect x="831.16" y="664.18" width="24.02" height="13.54" fill="#3565b6"/>
<rect x="854.88" y="664.18" width="24.02" height="13.54" fill="#5078c0"/>
<rect x="878.60" y="664.18" width="24.02" height="13.54" fill="#7e99d0"/>
<line x1="783.5" y1="664.2" x2="783.5" y2="677.7" stroke="#ffffff" stroke-width="0.4"/>
<line x1="807.5" y1="664.2" x2="807.5" y2="677.7" stroke="#ffffff" stroke-width="0.4"/>
<line x1="831.5" y1="664.2" x2="831.5" y2="677.7" stroke="#ffffff" stroke-width="0.4"/>
<line x1="854.5" y1="664.2" x2="854.5" y2="677.7" stroke="#ffffff" stroke-width="0.4"/>
<line x1="878.5" y1="664.2" x2="878.5" y2="677.7" stroke="#ffffff" stroke-width="0.4"/>
<text x="909.5" y="677.3" font-size="13">PAL</text>
<line x1="763.7" y1="680.5" x2="831.6" y2="680.5" stroke="#4444b0" stroke-width="1.2"/>
<line x1="834.7" y1="680.5" x2="902.1" y2="680.5" stroke="#ffc000" stroke-width="1.2"/>
<text x="786.6" y="692.4" font-size="12.8">CK</text>
<text x="851.9" y="692.4" font-size="13">NanoPS</text>
<defs><linearGradient id="gm"><stop offset="0" stop-color="#1f4fa0"/><stop offset="0.5" stop-color="#fff"/><stop offset="1" stop-color="#cf2a2a"/></linearGradient><linearGradient id="gp"><stop offset="0" stop-color="#0000f0"/><stop offset="0.42" stop-color="#fff"/><stop offset="1" stop-color="#ffff00"/></linearGradient></defs>
<text x="771.4" y="709.0" font-size="7.7">mRNA</text>
<rect x="797.3" y="701.5" width="58.6" height="7.5" fill="url(#gm)"/>
<text x="797.3" y="716.7" font-size="7.9">Min</text>
<text x="845.5" y="717.7" font-size="7.9">Max</text>
<text x="865.4" y="707.3" font-size="7.7">Protein</text>
<rect x="889" y="701.5" width="56.3" height="7.9" fill="url(#gp)"/>
<text x="889.0" y="715.6" font-size="7.9">Min</text>
<text x="936.8" y="716.7" font-size="7.9">Max</text>
<text x="19.1" y="596.0" font-size="21">(e)</text>
<rect x="63.90" y="574.10" width="28.60" height="13.37" fill="#e0684f" stroke="#ece6e0" stroke-width="0.5"/>
<rect x="92.50" y="574.10" width="28.60" height="13.37" fill="#e58a68" stroke="#ece6e0" stroke-width="0.5"/>
<rect x="121.10" y="574.10" width="28.60" height="13.37" fill="#e07a5a" stroke="#ece6e0" stroke-width="0.5"/>
<rect x="149.70" y="574.10" width="28.60" height="13.37" fill="#e06850" stroke="#ece6e0" stroke-width="0.5"/>
<rect x="178.30" y="574.10" width="28.60" height="13.37" fill="#e8a07a" stroke="#ece6e0" stroke-width="0.5"/>
<rect x="206.90" y="574.10" width="28.60" height="13.37" fill="#2b5cb8" stroke="#ece6e0" stroke-width="0.5"/>
<rect x="235.50" y="574.10" width="28.60" height="13.37" fill="#efe0a5" stroke="#ece6e0" stroke-width="0.5"/>
<rect x="264.10" y="574.10" width="28.60" height="13.37" fill="#6585b5" stroke="#ece6e0" stroke-width="0.5"/>
<rect x="292.70" y="574.10" width="28.60" height="13.37" fill="#e5dda8" stroke="#ece6e0" stroke-width="0.5"/>
<rect x="321.30" y="574.10" width="28.60" height="13.37" fill="#8098b0" stroke="#ece6e0" stroke-width="0.5"/>
<rect x="63.90" y="587.47" width="28.60" height="13.37" fill="#d8d8a8" stroke="#ece6e0" stroke-width="0.5"/>
<rect x="92.50" y="587.47" width="28.60" height="13.37" fill="#6585b5" stroke="#ece6e0" stroke-width="0.5"/>
<rect x="121.10" y="587.47" width="28.60" height="13.37" fill="#3a62b5" stroke="#ece6e0" stroke-width="0.5"/>
<rect x="149.70" y="587.47" width="28.60" height="13.37" fill="#8fa0b0" stroke="#ece6e0" stroke-width="0.5"/>
<rect x="178.30" y="587.47" width="28.60" height="13.37" fill="#edc898" stroke="#ece6e0" stroke-width="0.5"/>
<rect x="206.90" y="587.47" width="28.60" height="13.37" fill="#e89a75" stroke="#ece6e0" stroke-width="0.5"/>
<rect x="235.50" y="587.47" width="28.60" height="13.37" fill="#d42a2a" stroke="#ece6e0" stroke-width="0.5"/>
<rect x="264.10" y="587.47" width="28.60" height="13.37" fill="#e06a50" stroke="#ece6e0" stroke-width="0.5"/>
<rect x="292.70" y="587.47" width="28.60" height="13.37" fill="#e8e0a8" stroke="#ece6e0" stroke-width="0.5"/>
<rect x="321.30" y="587.47" width="28.60" height="13.37" fill="#e8c090" stroke="#ece6e0" stroke-width="0.5"/>
<rect x="63.90" y="600.84" width="28.60" height="13.37" fill="#e8987a" stroke="#ece6e0" stroke-width="0.5"/>
<rect x="92.50" y="600.84" width="28.60" height="13.37" fill="#dd5540" stroke="#ece6e0" stroke-width="0.5"/>
<rect x="121.10" y="600.84" width="28.60" height="13.37" fill="#da4838" stroke="#ece6e0" stroke-width="0.5"/>
<rect x="149.70" y="600.84" width="28.60" height="13.37" fill="#e8a880" stroke="#ece6e0" stroke-width="0.5"/>
<rect x="178.30" y="600.84" width="28.60" height="13.37" fill="#eee2ac" stroke="#ece6e0" stroke-width="0.5"/>
<rect x="206.90" y="600.84" width="28.60" height="13.37" fill="#8098b0" stroke="#ece6e0" stroke-width="0.5"/>
<rect x="235.50" y="600.84" width="28.60" height="13.37" fill="#edd8a0" stroke="#ece6e0" stroke-width="0.5"/>
<rect x="264.10" y="600.84" width="28.60" height="13.37" fill="#2b5cb8" stroke="#ece6e0" stroke-width="0.5"/>
<rect x="292.70" y="600.84" width="28.60" height="13.37" fill="#a5b0ae" stroke="#ece6e0" stroke-width="0.5"/>
<rect x="321.30" y="600.84" width="28.60" height="13.37" fill="#98a8b0" stroke="#ece6e0" stroke-width="0.5"/>
<rect x="63.90" y="614.21" width="28.60" height="13.37" fill="#8a9eb0" stroke="#ece6e0" stroke-width="0.5"/>
<rect x="92.50" y="614.21" width="28.60" height="13.37" fill="#6585b5" stroke="#ece6e0" stroke-width="0.5"/>
<rect x="121.10" y="614.21" width="28.60" height="13.37" fill="#8fa0b0" stroke="#ece6e0" stroke-width="0.5"/>
<rect x="149.70" y="614.21" width="28.60" height="13.37" fill="#a8b2ae" stroke="#ece6e0" stroke-width="0.5"/>
<rect x="178.30" y="614.21" width="28.60" height="13.37" fill="#b8bcac" stroke="#ece6e0" stroke-width="0.5"/>
<rect x="206.90" y="614.21" width="28.60" height="13.37" fill="#e06a50" stroke="#ece6e0" stroke-width="0.5"/>
<rect x="235.50" y="614.21" width="28.60" height="13.37" fill="#edb88a" stroke="#ece6e0" stroke-width="0.5"/>
<rect x="264.10" y="614.21" width="28.60" height="13.37" fill="#d83830" stroke="#ece6e0" stroke-width="0.5"/>
<rect x="292.70" y="614.21" width="28.60" height="13.37" fill="#df5a45" stroke="#ece6e0" stroke-width="0.5"/>
<rect x="321.30" y="614.21" width="28.60" height="13.37" fill="#d8d8a8" stroke="#ece6e0" stroke-width="0.5"/>
<rect x="63.90" y="627.58" width="28.60" height="13.37" fill="#e58a68" stroke="#ece6e0" stroke-width="0.5"/>
<rect x="92.50" y="627.58" width="28.60" height="13.37" fill="#da4838" stroke="#ece6e0" stroke-width="0.5"/>
<rect x="121.10" y="627.58" width="28.60" height="13.37" fill="#e07a5a" stroke="#ece6e0" stroke-width="0.5"/>
<rect x="149.70" y="627.58" width="28.60" height="13.37" fill="#e8987a" stroke="#ece6e0" stroke-width="0.5"/>
<rect x="178.30" y="627.58" width="28.60" height="13.37" fill="#edd8a0" stroke="#ece6e0" stroke-width="0.5"/>
<rect x="206.90" y="627.58" width="28.60" height="13.37" fill="#7e96b2" stroke="#ece6e0" stroke-width="0.5"/>
<rect x="235.50" y="627.58" width="28.60" height="13.37" fill="#7590b4" stroke="#ece6e0" stroke-width="0.5"/>
<rect x="264.10" y="627.58" width="28.60" height="13.37" fill="#6585b5" stroke="#ece6e0" stroke-width="0.5"/>
<rect x="292.70" y="627.58" width="28.60" height="13.37" fill="#ede0a5" stroke="#ece6e0" stroke-width="0.5"/>
<rect x="321.30" y="627.58" width="28.60" height="13.37" fill="#6585b5" stroke="#ece6e0" stroke-width="0.5"/>
<rect x="63.90" y="640.95" width="28.60" height="13.37" fill="#e8987a" stroke="#ece6e0" stroke-width="0.5"/>
<rect x="92.50" y="640.95" width="28.60" height="13.37" fill="#e58a68" stroke="#ece6e0" stroke-width="0.5"/>
<rect x="121.10" y="640.95" width="28.60" height="13.37" fill="#df6248" stroke="#ece6e0" stroke-width="0.5"/>
<rect x="149.70" y="640.95" width="28.60" height="13.37" fill="#df5a45" stroke="#ece6e0" stroke-width="0.5"/>
<rect x="178.30" y="640.95" width="28.60" height="13.37" fill="#e58060" stroke="#ece6e0" stroke-width="0.5"/>
<rect x="206.90" y="640.95" width="28.60" height="13.37" fill="#7e96b2" stroke="#ece6e0" stroke-width="0.5"/>
<rect x="235.50" y="640.95" width="28.60" height="13.37" fill="#98a8b0" stroke="#ece6e0" stroke-width="0.5"/>
<rect x="264.10" y="640.95" width="28.60" height="13.37" fill="#7590b4" stroke="#ece6e0" stroke-width="0.5"/>
<rect x="292.70" y="640.95" width="28.60" height="13.37" fill="#8fa0b0" stroke="#ece6e0" stroke-width="0.5"/>
<rect x="321.30" y="640.95" width="28.60" height="13.37" fill="#7e96b2" stroke="#ece6e0" stroke-width="0.5"/>
<text x="354.8" y="584.6" font-size="13.2">Apigenin</text>
<text x="352.6" y="599.6" font-size="13.2">Coniferyl aldehyde</text>
<text x="352.6" y="613.2" font-size="13.2">Coniferol</text>
<text x="352.6" y="625.7" font-size="13.2">Coniferin</text>
<text x="354.0" y="638.8" font-size="13.2">Phenylalanine</text>
<text x="354.8" y="651.3" font-size="13.2">Tyrosine</text>
<text transform="translate(76.7,662.3) rotate(-65) skewX(-9)" text-anchor="end" font-size="11">CK-1</text>
<text transform="translate(105.2,661.1) rotate(-65) skewX(-9)" text-anchor="end" font-size="11">CK-2</text>
<text transform="translate(136.0,661.3) rotate(-65) skewX(-9)" text-anchor="end" font-size="11">CK-3</text>
<text transform="translate(166.0,662.3) rotate(-65) skewX(-9)" text-anchor="end" font-size="11">CK-4</text>
<text transform="translate(194.1,662.1) rotate(-65) skewX(-9)" text-anchor="end" font-size="11">CK-5</text>
<text transform="translate(226.5,661.7) rotate(-65) skewX(-9)" text-anchor="end" font-size="11">NanoPS-1</text>
<text transform="translate(252.5,659.6) rotate(-65) skewX(-9)" text-anchor="end" font-size="11">NanoPS-2</text>
<text transform="translate(282.1,659.6) rotate(-65) skewX(-9)" text-anchor="end" font-size="11">NanoPS-3</text>
<text transform="translate(304.7,658.6) rotate(-65) skewX(-9)" text-anchor="end" font-size="11">NanoPS-4</text>
<text transform="translate(340.8,660.7) rotate(-65) skewX(-9)" text-anchor="end" font-size="11">NanoPS-5</text>
<defs><linearGradient id="ge" x1="0" y1="0" x2="0" y2="1"><stop offset="0" stop-color="#d42020"/><stop offset="0.5" stop-color="#f0e8b0"/><stop offset="1" stop-color="#2858b8"/></linearGradient></defs>
<rect x="462" y="574.2" width="14" height="105.1" fill="url(#ge)"/>
<line x1="476.0" y1="574.5" x2="478.0" y2="574.5" stroke="#000" stroke-width="0.6"/>
<text x="478.7" y="578.2" font-size="8.6" font-family="Liberation Sans">2.00</text>
<line x1="476.0" y1="587.5" x2="478.0" y2="587.5" stroke="#000" stroke-width="0.6"/>
<text x="478.7" y="591.3" font-size="8.6" font-family="Liberation Sans">1.50</text>
<line x1="476.0" y1="600.5" x2="478.0" y2="600.5" stroke="#000" stroke-width="0.6"/>
<text x="478.7" y="604.4" font-size="8.6" font-family="Liberation Sans">1.00</text>
<line x1="476.0" y1="613.5" x2="478.0" y2="613.5" stroke="#000" stroke-width="0.6"/>
<text x="478.7" y="617.5" font-size="8.6" font-family="Liberation Sans">0.50</text>
<line x1="476.0" y1="626.5" x2="478.0" y2="626.5" stroke="#000" stroke-width="0.6"/>
<text x="478.7" y="630.6" font-size="8.6" font-family="Liberation Sans">0.00</text>
<line x1="476.0" y1="639.5" x2="478.0" y2="639.5" stroke="#000" stroke-width="0.6"/>
<text x="478.7" y="643.7" font-size="8.6" font-family="Liberation Sans">-0.50</text>
<line x1="476.0" y1="653.5" x2="478.0" y2="653.5" stroke="#000" stroke-width="0.6"/>
<text x="478.7" y="656.8" font-size="8.6" font-family="Liberation Sans">-1.00</text>
<line x1="476.0" y1="666.5" x2="478.0" y2="666.5" stroke="#000" stroke-width="0.6"/>
<text x="478.7" y="670.0" font-size="8.6" font-family="Liberation Sans">-1.50</text>
<line x1="476.0" y1="679.5" x2="478.0" y2="679.5" stroke="#000" stroke-width="0.6"/>
<text x="478.7" y="683.1" font-size="8.6" font-family="Liberation Sans">-2.00</text>
</svg>
</body></html>
